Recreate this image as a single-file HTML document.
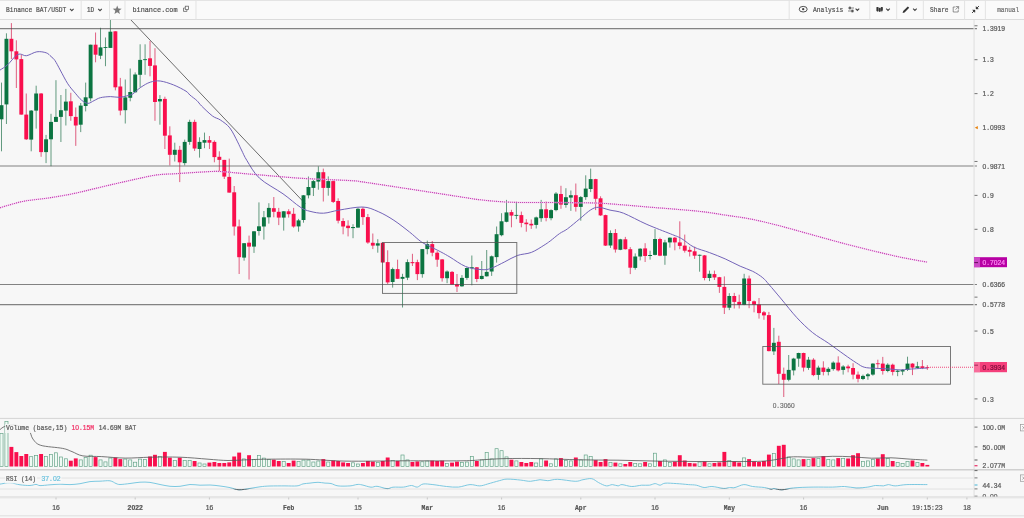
<!DOCTYPE html>
<html><head><meta charset="utf-8"><title>BAT/USDT</title>
<style>
html,body{margin:0;padding:0;background:#f7f7f7;}
body{width:1024px;height:518px;overflow:hidden;position:relative;font-family:"Liberation Mono",monospace;}
svg{position:absolute;left:0;top:0;display:block}
text{font-family:"Liberation Mono",monospace;}
</style></head><body>
<svg width="1024" height="518" viewBox="0 0 1024 518" style="will-change:transform">

<rect x="0" y="0" width="1024" height="518" fill="#f7f7f7"/>
<defs><clipPath id="cm"><rect x="0" y="20" width="973" height="398"/></clipPath></defs>
<g clip-path="url(#cm)">
<line x1="130.5" y1="19.5" x2="305.3" y2="203.8" stroke="#555" stroke-width="1" stroke-opacity="0.85"/>
<line x1="1.50" y1="82.6" x2="1.50" y2="151.3" stroke="#2b7853" stroke-width="0.9" stroke-opacity="0.82"/>
<rect x="-0.45" y="105.2" width="3.9" height="14.1" fill="#0b7441"/>
<line x1="6.45" y1="33.3" x2="6.45" y2="124.0" stroke="#2b7853" stroke-width="0.9" stroke-opacity="0.82"/>
<rect x="4.50" y="38.8" width="3.9" height="65.6" fill="#0b7441"/>
<line x1="11.40" y1="23.1" x2="11.40" y2="59.0" stroke="#d62655" stroke-width="0.9" stroke-opacity="0.82"/>
<rect x="9.45" y="38.8" width="3.9" height="12.5" fill="#f90f4d"/>
<line x1="16.35" y1="40.3" x2="16.35" y2="88.0" stroke="#d62655" stroke-width="0.9" stroke-opacity="0.82"/>
<rect x="14.40" y="51.3" width="3.9" height="8.1" fill="#f90f4d"/>
<line x1="21.30" y1="54.4" x2="21.30" y2="114.6" stroke="#d62655" stroke-width="0.9" stroke-opacity="0.82"/>
<rect x="19.35" y="59.1" width="3.9" height="55.5" fill="#f90f4d"/>
<line x1="26.25" y1="93.5" x2="26.25" y2="140.0" stroke="#d62655" stroke-width="0.9" stroke-opacity="0.82"/>
<rect x="24.30" y="114.6" width="3.9" height="24.7" fill="#f90f4d"/>
<line x1="31.21" y1="110.0" x2="31.21" y2="151.3" stroke="#2b7853" stroke-width="0.9" stroke-opacity="0.82"/>
<rect x="29.26" y="110.6" width="3.9" height="29.0" fill="#0b7441"/>
<line x1="36.16" y1="85.7" x2="36.16" y2="128.6" stroke="#2b7853" stroke-width="0.9" stroke-opacity="0.82"/>
<rect x="34.21" y="93.5" width="3.9" height="17.1" fill="#0b7441"/>
<line x1="41.11" y1="93.0" x2="41.11" y2="156.8" stroke="#d62655" stroke-width="0.9" stroke-opacity="0.82"/>
<rect x="39.16" y="93.5" width="3.9" height="58.6" fill="#f90f4d"/>
<line x1="46.06" y1="134.9" x2="46.06" y2="163.1" stroke="#2b7853" stroke-width="0.9" stroke-opacity="0.82"/>
<rect x="44.11" y="139.3" width="3.9" height="12.8" fill="#0b7441"/>
<line x1="51.01" y1="113.8" x2="51.01" y2="166.2" stroke="#2b7853" stroke-width="0.9" stroke-opacity="0.82"/>
<rect x="49.06" y="121.9" width="3.9" height="17.4" fill="#0b7441"/>
<line x1="55.96" y1="80.2" x2="55.96" y2="122.0" stroke="#2b7853" stroke-width="0.9" stroke-opacity="0.82"/>
<rect x="54.01" y="116.9" width="3.9" height="5.0" fill="#0b7441"/>
<line x1="60.91" y1="95.0" x2="60.91" y2="142.0" stroke="#2b7853" stroke-width="0.9" stroke-opacity="0.82"/>
<rect x="58.96" y="110.2" width="3.9" height="6.7" fill="#0b7441"/>
<line x1="65.86" y1="88.9" x2="65.86" y2="125.5" stroke="#2b7853" stroke-width="0.9" stroke-opacity="0.82"/>
<rect x="63.91" y="101.6" width="3.9" height="9.0" fill="#0b7441"/>
<line x1="70.81" y1="92.8" x2="70.81" y2="120.8" stroke="#d62655" stroke-width="0.9" stroke-opacity="0.82"/>
<rect x="68.86" y="101.3" width="3.9" height="14.8" fill="#f90f4d"/>
<line x1="75.77" y1="107.5" x2="75.77" y2="145.9" stroke="#d62655" stroke-width="0.9" stroke-opacity="0.82"/>
<rect x="73.81" y="116.9" width="3.9" height="8.6" fill="#f90f4d"/>
<line x1="80.72" y1="103.0" x2="80.72" y2="132.1" stroke="#2b7853" stroke-width="0.9" stroke-opacity="0.82"/>
<rect x="78.77" y="105.6" width="3.9" height="19.1" fill="#0b7441"/>
<line x1="85.67" y1="82.6" x2="85.67" y2="111.4" stroke="#2b7853" stroke-width="0.9" stroke-opacity="0.82"/>
<rect x="83.72" y="97.3" width="3.9" height="8.7" fill="#0b7441"/>
<line x1="90.62" y1="44.7" x2="90.62" y2="101.3" stroke="#2b7853" stroke-width="0.9" stroke-opacity="0.82"/>
<rect x="88.67" y="44.7" width="3.9" height="53.6" fill="#0b7441"/>
<line x1="95.57" y1="32.5" x2="95.57" y2="62.3" stroke="#d62655" stroke-width="0.9" stroke-opacity="0.82"/>
<rect x="93.62" y="44.7" width="3.9" height="10.0" fill="#f90f4d"/>
<line x1="100.52" y1="27.8" x2="100.52" y2="59.1" stroke="#2b7853" stroke-width="0.9" stroke-opacity="0.82"/>
<rect x="98.57" y="47.4" width="3.9" height="8.3" fill="#0b7441"/>
<line x1="105.47" y1="37.5" x2="105.47" y2="66.2" stroke="#2b7853" stroke-width="0.9" stroke-opacity="0.82"/>
<rect x="103.52" y="47.0" width="3.9" height="0.9" fill="#0b7441"/>
<line x1="110.42" y1="20.0" x2="110.42" y2="47.9" stroke="#2b7853" stroke-width="0.9" stroke-opacity="0.82"/>
<rect x="108.47" y="31.7" width="3.9" height="16.2" fill="#0b7441"/>
<line x1="115.37" y1="31.3" x2="115.37" y2="90.4" stroke="#d62655" stroke-width="0.9" stroke-opacity="0.82"/>
<rect x="113.42" y="31.3" width="3.9" height="56.0" fill="#f90f4d"/>
<line x1="120.32" y1="77.9" x2="120.32" y2="115.3" stroke="#d62655" stroke-width="0.9" stroke-opacity="0.82"/>
<rect x="118.37" y="86.5" width="3.9" height="24.1" fill="#f90f4d"/>
<line x1="125.27" y1="79.5" x2="125.27" y2="123.5" stroke="#2b7853" stroke-width="0.9" stroke-opacity="0.82"/>
<rect x="123.32" y="97.4" width="3.9" height="12.8" fill="#0b7441"/>
<line x1="130.23" y1="68.5" x2="130.23" y2="101.3" stroke="#2b7853" stroke-width="0.9" stroke-opacity="0.82"/>
<rect x="128.28" y="92.0" width="3.9" height="5.8" fill="#0b7441"/>
<line x1="135.18" y1="72.4" x2="135.18" y2="92.3" stroke="#2b7853" stroke-width="0.9" stroke-opacity="0.82"/>
<rect x="133.23" y="74.5" width="3.9" height="17.8" fill="#0b7441"/>
<line x1="140.13" y1="44.3" x2="140.13" y2="87.3" stroke="#2b7853" stroke-width="0.9" stroke-opacity="0.82"/>
<rect x="138.18" y="59.9" width="3.9" height="14.9" fill="#0b7441"/>
<line x1="145.08" y1="44.3" x2="145.08" y2="74.8" stroke="#2b7853" stroke-width="0.9" stroke-opacity="0.82"/>
<rect x="143.13" y="59.2" width="3.9" height="0.9" fill="#0b7441"/>
<line x1="150.03" y1="41.1" x2="150.03" y2="76.3" stroke="#d62655" stroke-width="0.9" stroke-opacity="0.82"/>
<rect x="148.08" y="58.3" width="3.9" height="7.6" fill="#f90f4d"/>
<line x1="154.98" y1="48.2" x2="154.98" y2="120.8" stroke="#d62655" stroke-width="0.9" stroke-opacity="0.82"/>
<rect x="153.03" y="65.4" width="3.9" height="36.6" fill="#f90f4d"/>
<line x1="159.93" y1="95.1" x2="159.93" y2="124.7" stroke="#2b7853" stroke-width="0.9" stroke-opacity="0.82"/>
<rect x="157.98" y="99.0" width="3.9" height="2.4" fill="#0b7441"/>
<line x1="164.88" y1="96.7" x2="164.88" y2="149.0" stroke="#d62655" stroke-width="0.9" stroke-opacity="0.82"/>
<rect x="162.93" y="98.9" width="3.9" height="36.8" fill="#f90f4d"/>
<line x1="169.83" y1="126.3" x2="169.83" y2="165.4" stroke="#d62655" stroke-width="0.9" stroke-opacity="0.82"/>
<rect x="167.88" y="135.4" width="3.9" height="19.4" fill="#f90f4d"/>
<line x1="174.78" y1="142.7" x2="174.78" y2="161.5" stroke="#2b7853" stroke-width="0.9" stroke-opacity="0.82"/>
<rect x="172.84" y="149.8" width="3.9" height="5.0" fill="#0b7441"/>
<line x1="179.74" y1="145.9" x2="179.74" y2="182.1" stroke="#d62655" stroke-width="0.9" stroke-opacity="0.82"/>
<rect x="177.79" y="149.8" width="3.9" height="12.5" fill="#f90f4d"/>
<line x1="184.69" y1="139.6" x2="184.69" y2="165.4" stroke="#2b7853" stroke-width="0.9" stroke-opacity="0.82"/>
<rect x="182.74" y="141.9" width="3.9" height="21.2" fill="#0b7441"/>
<line x1="189.64" y1="119.7" x2="189.64" y2="144.8" stroke="#2b7853" stroke-width="0.9" stroke-opacity="0.82"/>
<rect x="187.69" y="121.9" width="3.9" height="20.0" fill="#0b7441"/>
<line x1="194.59" y1="119.7" x2="194.59" y2="150.9" stroke="#d62655" stroke-width="0.9" stroke-opacity="0.82"/>
<rect x="192.64" y="121.9" width="3.9" height="26.6" fill="#f90f4d"/>
<line x1="199.54" y1="137.3" x2="199.54" y2="157.6" stroke="#2b7853" stroke-width="0.9" stroke-opacity="0.82"/>
<rect x="197.59" y="141.9" width="3.9" height="7.1" fill="#0b7441"/>
<line x1="204.49" y1="132.6" x2="204.49" y2="148.2" stroke="#2b7853" stroke-width="0.9" stroke-opacity="0.82"/>
<rect x="202.54" y="140.1" width="3.9" height="2.6" fill="#0b7441"/>
<line x1="209.44" y1="136.0" x2="209.44" y2="149.0" stroke="#d62655" stroke-width="0.9" stroke-opacity="0.82"/>
<rect x="207.49" y="140.1" width="3.9" height="2.6" fill="#f90f4d"/>
<line x1="214.39" y1="140.4" x2="214.39" y2="162.3" stroke="#d62655" stroke-width="0.9" stroke-opacity="0.82"/>
<rect x="212.44" y="141.9" width="3.9" height="15.2" fill="#f90f4d"/>
<line x1="219.34" y1="151.3" x2="219.34" y2="171.1" stroke="#d62655" stroke-width="0.9" stroke-opacity="0.82"/>
<rect x="217.39" y="156.8" width="3.9" height="3.1" fill="#f90f4d"/>
<line x1="224.29" y1="159.9" x2="224.29" y2="179.0" stroke="#d62655" stroke-width="0.9" stroke-opacity="0.82"/>
<rect x="222.34" y="159.9" width="3.9" height="16.7" fill="#f90f4d"/>
<line x1="229.25" y1="158.6" x2="229.25" y2="192.6" stroke="#d62655" stroke-width="0.9" stroke-opacity="0.82"/>
<rect x="227.30" y="176.9" width="3.9" height="15.7" fill="#f90f4d"/>
<line x1="234.20" y1="186.0" x2="234.20" y2="235.6" stroke="#d62655" stroke-width="0.9" stroke-opacity="0.82"/>
<rect x="232.25" y="192.3" width="3.9" height="34.2" fill="#f90f4d"/>
<line x1="239.15" y1="219.6" x2="239.15" y2="274.0" stroke="#d62655" stroke-width="0.9" stroke-opacity="0.82"/>
<rect x="237.20" y="226.4" width="3.9" height="30.8" fill="#f90f4d"/>
<line x1="244.10" y1="243.0" x2="244.10" y2="260.7" stroke="#2b7853" stroke-width="0.9" stroke-opacity="0.82"/>
<rect x="242.15" y="243.2" width="3.9" height="14.4" fill="#0b7441"/>
<line x1="249.05" y1="235.6" x2="249.05" y2="279.5" stroke="#d62655" stroke-width="0.9" stroke-opacity="0.82"/>
<rect x="247.10" y="242.7" width="3.9" height="3.9" fill="#f90f4d"/>
<line x1="254.00" y1="231.0" x2="254.00" y2="252.9" stroke="#2b7853" stroke-width="0.9" stroke-opacity="0.82"/>
<rect x="252.05" y="231.3" width="3.9" height="15.3" fill="#0b7441"/>
<line x1="258.95" y1="202.4" x2="258.95" y2="235.6" stroke="#2b7853" stroke-width="0.9" stroke-opacity="0.82"/>
<rect x="257.00" y="226.3" width="3.9" height="4.7" fill="#0b7441"/>
<line x1="263.90" y1="211.0" x2="263.90" y2="239.6" stroke="#2b7853" stroke-width="0.9" stroke-opacity="0.82"/>
<rect x="261.95" y="217.3" width="3.9" height="9.2" fill="#0b7441"/>
<line x1="268.85" y1="203.2" x2="268.85" y2="223.6" stroke="#2b7853" stroke-width="0.9" stroke-opacity="0.82"/>
<rect x="266.90" y="207.9" width="3.9" height="9.4" fill="#0b7441"/>
<line x1="273.81" y1="197.0" x2="273.81" y2="217.3" stroke="#d62655" stroke-width="0.9" stroke-opacity="0.82"/>
<rect x="271.86" y="208.2" width="3.9" height="3.6" fill="#f90f4d"/>
<line x1="278.76" y1="207.9" x2="278.76" y2="225.1" stroke="#d62655" stroke-width="0.9" stroke-opacity="0.82"/>
<rect x="276.81" y="211.8" width="3.9" height="5.8" fill="#f90f4d"/>
<line x1="283.71" y1="211.0" x2="283.71" y2="230.6" stroke="#2b7853" stroke-width="0.9" stroke-opacity="0.82"/>
<rect x="281.76" y="211.3" width="3.9" height="6.3" fill="#0b7441"/>
<line x1="288.66" y1="209.2" x2="288.66" y2="217.6" stroke="#d62655" stroke-width="0.9" stroke-opacity="0.82"/>
<rect x="286.71" y="211.3" width="3.9" height="2.9" fill="#f90f4d"/>
<line x1="293.61" y1="207.9" x2="293.61" y2="227.7" stroke="#d62655" stroke-width="0.9" stroke-opacity="0.82"/>
<rect x="291.66" y="213.8" width="3.9" height="12.7" fill="#f90f4d"/>
<line x1="298.56" y1="218.9" x2="298.56" y2="231.7" stroke="#2b7853" stroke-width="0.9" stroke-opacity="0.82"/>
<rect x="296.61" y="220.4" width="3.9" height="6.0" fill="#0b7441"/>
<line x1="303.51" y1="195.0" x2="303.51" y2="222.7" stroke="#2b7853" stroke-width="0.9" stroke-opacity="0.82"/>
<rect x="301.56" y="195.3" width="3.9" height="24.7" fill="#0b7441"/>
<line x1="308.46" y1="176.5" x2="308.46" y2="198.4" stroke="#2b7853" stroke-width="0.9" stroke-opacity="0.82"/>
<rect x="306.51" y="187.0" width="3.9" height="8.3" fill="#0b7441"/>
<line x1="313.41" y1="180.0" x2="313.41" y2="196.0" stroke="#2b7853" stroke-width="0.9" stroke-opacity="0.82"/>
<rect x="311.46" y="181.1" width="3.9" height="6.8" fill="#0b7441"/>
<line x1="318.36" y1="166.3" x2="318.36" y2="189.7" stroke="#2b7853" stroke-width="0.9" stroke-opacity="0.82"/>
<rect x="316.41" y="172.2" width="3.9" height="9.4" fill="#0b7441"/>
<line x1="323.31" y1="168.6" x2="323.31" y2="201.5" stroke="#d62655" stroke-width="0.9" stroke-opacity="0.82"/>
<rect x="321.37" y="172.2" width="3.9" height="15.7" fill="#f90f4d"/>
<line x1="328.27" y1="176.4" x2="328.27" y2="195.7" stroke="#2b7853" stroke-width="0.9" stroke-opacity="0.82"/>
<rect x="326.32" y="181.1" width="3.9" height="6.8" fill="#0b7441"/>
<line x1="333.22" y1="180.3" x2="333.22" y2="203.0" stroke="#d62655" stroke-width="0.9" stroke-opacity="0.82"/>
<rect x="331.27" y="181.1" width="3.9" height="20.8" fill="#f90f4d"/>
<line x1="338.17" y1="198.3" x2="338.17" y2="223.4" stroke="#d62655" stroke-width="0.9" stroke-opacity="0.82"/>
<rect x="336.22" y="201.0" width="3.9" height="19.7" fill="#f90f4d"/>
<line x1="343.12" y1="218.2" x2="343.12" y2="234.3" stroke="#d62655" stroke-width="0.9" stroke-opacity="0.82"/>
<rect x="341.17" y="221.0" width="3.9" height="5.5" fill="#f90f4d"/>
<line x1="348.07" y1="220.3" x2="348.07" y2="236.4" stroke="#d62655" stroke-width="0.9" stroke-opacity="0.82"/>
<rect x="346.12" y="225.7" width="3.9" height="2.4" fill="#f90f4d"/>
<line x1="353.02" y1="224.2" x2="353.02" y2="238.2" stroke="#2b7853" stroke-width="0.9" stroke-opacity="0.82"/>
<rect x="351.07" y="227.0" width="3.9" height="1.1" fill="#0b7441"/>
<line x1="357.97" y1="207.7" x2="357.97" y2="227.6" stroke="#2b7853" stroke-width="0.9" stroke-opacity="0.82"/>
<rect x="356.02" y="208.8" width="3.9" height="18.8" fill="#0b7441"/>
<line x1="362.92" y1="207.0" x2="362.92" y2="224.9" stroke="#d62655" stroke-width="0.9" stroke-opacity="0.82"/>
<rect x="360.97" y="208.8" width="3.9" height="8.3" fill="#f90f4d"/>
<line x1="367.87" y1="214.0" x2="367.87" y2="243.8" stroke="#d62655" stroke-width="0.9" stroke-opacity="0.82"/>
<rect x="365.92" y="217.1" width="3.9" height="25.4" fill="#f90f4d"/>
<line x1="372.82" y1="233.5" x2="372.82" y2="249.1" stroke="#d62655" stroke-width="0.9" stroke-opacity="0.82"/>
<rect x="370.88" y="242.8" width="3.9" height="2.8" fill="#f90f4d"/>
<line x1="377.78" y1="239.2" x2="377.78" y2="252.7" stroke="#2b7853" stroke-width="0.9" stroke-opacity="0.82"/>
<rect x="375.83" y="243.3" width="3.9" height="2.3" fill="#0b7441"/>
<line x1="382.73" y1="242.8" x2="382.73" y2="262.5" stroke="#d62655" stroke-width="0.9" stroke-opacity="0.82"/>
<rect x="380.78" y="242.8" width="3.9" height="19.7" fill="#d80f42"/>
<line x1="387.68" y1="250.3" x2="387.68" y2="284.0" stroke="#d62655" stroke-width="0.9" stroke-opacity="0.82"/>
<rect x="385.73" y="262.1" width="3.9" height="20.3" fill="#f90f4d"/>
<line x1="392.63" y1="267.6" x2="392.63" y2="287.6" stroke="#2b7853" stroke-width="0.9" stroke-opacity="0.82"/>
<rect x="390.68" y="269.1" width="3.9" height="12.9" fill="#0b7441"/>
<line x1="397.58" y1="259.7" x2="397.58" y2="278.8" stroke="#d62655" stroke-width="0.9" stroke-opacity="0.82"/>
<rect x="395.63" y="269.1" width="3.9" height="9.7" fill="#f90f4d"/>
<line x1="402.53" y1="273.8" x2="402.53" y2="307.5" stroke="#2b7853" stroke-width="0.9" stroke-opacity="0.82"/>
<rect x="400.58" y="276.9" width="3.9" height="1.9" fill="#0b7441"/>
<line x1="407.48" y1="259.4" x2="407.48" y2="280.1" stroke="#2b7853" stroke-width="0.9" stroke-opacity="0.82"/>
<rect x="405.53" y="262.1" width="3.9" height="15.6" fill="#0b7441"/>
<line x1="412.43" y1="253.8" x2="412.43" y2="266.0" stroke="#d62655" stroke-width="0.9" stroke-opacity="0.82"/>
<rect x="410.48" y="262.1" width="3.9" height="1.1" fill="#f90f4d"/>
<line x1="417.38" y1="259.7" x2="417.38" y2="280.1" stroke="#d62655" stroke-width="0.9" stroke-opacity="0.82"/>
<rect x="415.43" y="262.1" width="3.9" height="12.0" fill="#f90f4d"/>
<line x1="422.33" y1="249.0" x2="422.33" y2="277.7" stroke="#2b7853" stroke-width="0.9" stroke-opacity="0.82"/>
<rect x="420.38" y="249.1" width="3.9" height="25.0" fill="#0b7441"/>
<line x1="427.29" y1="240.6" x2="427.29" y2="254.3" stroke="#2b7853" stroke-width="0.9" stroke-opacity="0.82"/>
<rect x="425.34" y="244.1" width="3.9" height="5.0" fill="#0b7441"/>
<line x1="432.24" y1="241.0" x2="432.24" y2="256.3" stroke="#d62655" stroke-width="0.9" stroke-opacity="0.82"/>
<rect x="430.29" y="244.1" width="3.9" height="8.6" fill="#f90f4d"/>
<line x1="437.19" y1="251.1" x2="437.19" y2="266.8" stroke="#d62655" stroke-width="0.9" stroke-opacity="0.82"/>
<rect x="435.24" y="252.7" width="3.9" height="7.0" fill="#f90f4d"/>
<line x1="442.14" y1="259.0" x2="442.14" y2="281.6" stroke="#d62655" stroke-width="0.9" stroke-opacity="0.82"/>
<rect x="440.19" y="259.4" width="3.9" height="18.8" fill="#f90f4d"/>
<line x1="447.09" y1="270.4" x2="447.09" y2="283.2" stroke="#2b7853" stroke-width="0.9" stroke-opacity="0.82"/>
<rect x="445.14" y="271.5" width="3.9" height="6.7" fill="#0b7441"/>
<line x1="452.04" y1="271.0" x2="452.04" y2="284.8" stroke="#d62655" stroke-width="0.9" stroke-opacity="0.82"/>
<rect x="450.09" y="271.9" width="3.9" height="12.7" fill="#f90f4d"/>
<line x1="456.99" y1="274.0" x2="456.99" y2="292.0" stroke="#d62655" stroke-width="0.9" stroke-opacity="0.82"/>
<rect x="455.04" y="284.3" width="3.9" height="2.2" fill="#f90f4d"/>
<line x1="461.94" y1="275.1" x2="461.94" y2="286.8" stroke="#2b7853" stroke-width="0.9" stroke-opacity="0.82"/>
<rect x="459.99" y="277.9" width="3.9" height="8.4" fill="#0b7441"/>
<line x1="466.89" y1="267.3" x2="466.89" y2="279.8" stroke="#2b7853" stroke-width="0.9" stroke-opacity="0.82"/>
<rect x="464.94" y="268.0" width="3.9" height="9.9" fill="#0b7441"/>
<line x1="471.84" y1="255.5" x2="471.84" y2="285.3" stroke="#2b7853" stroke-width="0.9" stroke-opacity="0.82"/>
<rect x="469.89" y="267.2" width="3.9" height="0.9" fill="#0b7441"/>
<line x1="476.80" y1="267.0" x2="476.80" y2="282.1" stroke="#d62655" stroke-width="0.9" stroke-opacity="0.82"/>
<rect x="474.85" y="267.3" width="3.9" height="11.7" fill="#f90f4d"/>
<line x1="481.75" y1="261.0" x2="481.75" y2="279.5" stroke="#2b7853" stroke-width="0.9" stroke-opacity="0.82"/>
<rect x="479.80" y="275.9" width="3.9" height="3.1" fill="#0b7441"/>
<line x1="486.70" y1="250.0" x2="486.70" y2="276.6" stroke="#2b7853" stroke-width="0.9" stroke-opacity="0.82"/>
<rect x="484.75" y="271.9" width="3.9" height="4.4" fill="#0b7441"/>
<line x1="491.65" y1="255.5" x2="491.65" y2="275.9" stroke="#2b7853" stroke-width="0.9" stroke-opacity="0.82"/>
<rect x="489.70" y="256.3" width="3.9" height="15.2" fill="#0b7441"/>
<line x1="496.60" y1="226.5" x2="496.60" y2="262.6" stroke="#2b7853" stroke-width="0.9" stroke-opacity="0.82"/>
<rect x="494.65" y="234.2" width="3.9" height="22.9" fill="#0b7441"/>
<line x1="501.55" y1="213.2" x2="501.55" y2="236.3" stroke="#2b7853" stroke-width="0.9" stroke-opacity="0.82"/>
<rect x="499.60" y="221.3" width="3.9" height="13.9" fill="#0b7441"/>
<line x1="506.50" y1="199.9" x2="506.50" y2="222.3" stroke="#2b7853" stroke-width="0.9" stroke-opacity="0.82"/>
<rect x="504.55" y="212.4" width="3.9" height="9.4" fill="#0b7441"/>
<line x1="511.45" y1="209.8" x2="511.45" y2="227.3" stroke="#d62655" stroke-width="0.9" stroke-opacity="0.82"/>
<rect x="509.50" y="212.1" width="3.9" height="3.5" fill="#f90f4d"/>
<line x1="516.40" y1="201.9" x2="516.40" y2="219.2" stroke="#2b7853" stroke-width="0.9" stroke-opacity="0.82"/>
<rect x="514.45" y="214.9" width="3.9" height="0.9" fill="#0b7441"/>
<line x1="521.35" y1="211.6" x2="521.35" y2="227.3" stroke="#d62655" stroke-width="0.9" stroke-opacity="0.82"/>
<rect x="519.40" y="215.1" width="3.9" height="7.8" fill="#f90f4d"/>
<line x1="526.31" y1="219.2" x2="526.31" y2="231.7" stroke="#d62655" stroke-width="0.9" stroke-opacity="0.82"/>
<rect x="524.36" y="222.6" width="3.9" height="1.6" fill="#f90f4d"/>
<line x1="531.26" y1="219.5" x2="531.26" y2="228.9" stroke="#d62655" stroke-width="0.9" stroke-opacity="0.82"/>
<rect x="529.31" y="223.8" width="3.9" height="1.6" fill="#f90f4d"/>
<line x1="536.21" y1="216.6" x2="536.21" y2="228.5" stroke="#2b7853" stroke-width="0.9" stroke-opacity="0.82"/>
<rect x="534.26" y="217.4" width="3.9" height="7.5" fill="#0b7441"/>
<line x1="541.16" y1="199.9" x2="541.16" y2="221.8" stroke="#2b7853" stroke-width="0.9" stroke-opacity="0.82"/>
<rect x="539.21" y="209.3" width="3.9" height="8.9" fill="#0b7441"/>
<line x1="546.11" y1="201.5" x2="546.11" y2="221.3" stroke="#d62655" stroke-width="0.9" stroke-opacity="0.82"/>
<rect x="544.16" y="209.3" width="3.9" height="8.6" fill="#f90f4d"/>
<line x1="551.06" y1="209.3" x2="551.06" y2="220.3" stroke="#2b7853" stroke-width="0.9" stroke-opacity="0.82"/>
<rect x="549.11" y="210.1" width="3.9" height="8.1" fill="#0b7441"/>
<line x1="556.01" y1="192.1" x2="556.01" y2="211.3" stroke="#2b7853" stroke-width="0.9" stroke-opacity="0.82"/>
<rect x="554.06" y="193.6" width="3.9" height="16.5" fill="#0b7441"/>
<line x1="560.96" y1="185.8" x2="560.96" y2="208.8" stroke="#d62655" stroke-width="0.9" stroke-opacity="0.82"/>
<rect x="559.01" y="194.0" width="3.9" height="10.6" fill="#f90f4d"/>
<line x1="565.91" y1="188.2" x2="565.91" y2="207.7" stroke="#2b7853" stroke-width="0.9" stroke-opacity="0.82"/>
<rect x="563.96" y="197.2" width="3.9" height="7.7" fill="#0b7441"/>
<line x1="570.87" y1="190.5" x2="570.87" y2="210.9" stroke="#2b7853" stroke-width="0.9" stroke-opacity="0.82"/>
<rect x="568.91" y="195.2" width="3.9" height="2.4" fill="#0b7441"/>
<line x1="575.82" y1="183.5" x2="575.82" y2="211.6" stroke="#d62655" stroke-width="0.9" stroke-opacity="0.82"/>
<rect x="573.87" y="195.2" width="3.9" height="11.7" fill="#f90f4d"/>
<line x1="580.77" y1="196.0" x2="580.77" y2="220.7" stroke="#2b7853" stroke-width="0.9" stroke-opacity="0.82"/>
<rect x="578.82" y="197.1" width="3.9" height="9.8" fill="#0b7441"/>
<line x1="585.72" y1="175.3" x2="585.72" y2="199.9" stroke="#2b7853" stroke-width="0.9" stroke-opacity="0.82"/>
<rect x="583.77" y="188.6" width="3.9" height="8.5" fill="#0b7441"/>
<line x1="590.67" y1="168.6" x2="590.67" y2="192.1" stroke="#2b7853" stroke-width="0.9" stroke-opacity="0.82"/>
<rect x="588.72" y="179.1" width="3.9" height="9.9" fill="#0b7441"/>
<line x1="595.62" y1="178.8" x2="595.62" y2="210.1" stroke="#d62655" stroke-width="0.9" stroke-opacity="0.82"/>
<rect x="593.67" y="179.1" width="3.9" height="19.7" fill="#f90f4d"/>
<line x1="600.57" y1="196.3" x2="600.57" y2="215.9" stroke="#d62655" stroke-width="0.9" stroke-opacity="0.82"/>
<rect x="598.62" y="198.3" width="3.9" height="17.1" fill="#f90f4d"/>
<line x1="605.52" y1="214.7" x2="605.52" y2="246.0" stroke="#d62655" stroke-width="0.9" stroke-opacity="0.82"/>
<rect x="603.57" y="215.1" width="3.9" height="30.5" fill="#f90f4d"/>
<line x1="610.47" y1="230.4" x2="610.47" y2="247.9" stroke="#2b7853" stroke-width="0.9" stroke-opacity="0.82"/>
<rect x="608.52" y="233.0" width="3.9" height="12.5" fill="#0b7441"/>
<line x1="615.42" y1="229.1" x2="615.42" y2="252.6" stroke="#d62655" stroke-width="0.9" stroke-opacity="0.82"/>
<rect x="613.47" y="233.0" width="3.9" height="16.5" fill="#f90f4d"/>
<line x1="620.38" y1="238.8" x2="620.38" y2="250.2" stroke="#2b7853" stroke-width="0.9" stroke-opacity="0.82"/>
<rect x="618.42" y="239.3" width="3.9" height="10.5" fill="#0b7441"/>
<line x1="625.33" y1="236.9" x2="625.33" y2="249.5" stroke="#d62655" stroke-width="0.9" stroke-opacity="0.82"/>
<rect x="623.38" y="239.3" width="3.9" height="9.9" fill="#f90f4d"/>
<line x1="630.28" y1="247.1" x2="630.28" y2="274.1" stroke="#d62655" stroke-width="0.9" stroke-opacity="0.82"/>
<rect x="628.33" y="249.2" width="3.9" height="18.5" fill="#f90f4d"/>
<line x1="635.23" y1="253.4" x2="635.23" y2="269.7" stroke="#2b7853" stroke-width="0.9" stroke-opacity="0.82"/>
<rect x="633.28" y="256.5" width="3.9" height="11.4" fill="#0b7441"/>
<line x1="640.18" y1="248.2" x2="640.18" y2="260.4" stroke="#2b7853" stroke-width="0.9" stroke-opacity="0.82"/>
<rect x="638.23" y="248.7" width="3.9" height="7.8" fill="#0b7441"/>
<line x1="645.13" y1="243.2" x2="645.13" y2="262.0" stroke="#d62655" stroke-width="0.9" stroke-opacity="0.82"/>
<rect x="643.18" y="248.4" width="3.9" height="7.6" fill="#f90f4d"/>
<line x1="650.08" y1="250.7" x2="650.08" y2="259.6" stroke="#2b7853" stroke-width="0.9" stroke-opacity="0.82"/>
<rect x="648.13" y="255.0" width="3.9" height="1.0" fill="#0b7441"/>
<line x1="655.03" y1="229.1" x2="655.03" y2="255.4" stroke="#2b7853" stroke-width="0.9" stroke-opacity="0.82"/>
<rect x="653.08" y="239.0" width="3.9" height="15.9" fill="#0b7441"/>
<line x1="659.98" y1="237.7" x2="659.98" y2="256.2" stroke="#d62655" stroke-width="0.9" stroke-opacity="0.82"/>
<rect x="658.03" y="239.0" width="3.9" height="16.7" fill="#f90f4d"/>
<line x1="664.93" y1="239.8" x2="664.93" y2="264.8" stroke="#2b7853" stroke-width="0.9" stroke-opacity="0.82"/>
<rect x="662.98" y="242.4" width="3.9" height="13.3" fill="#0b7441"/>
<line x1="669.88" y1="237.4" x2="669.88" y2="247.6" stroke="#2b7853" stroke-width="0.9" stroke-opacity="0.82"/>
<rect x="667.93" y="237.7" width="3.9" height="4.7" fill="#0b7441"/>
<line x1="674.84" y1="236.9" x2="674.84" y2="250.3" stroke="#d62655" stroke-width="0.9" stroke-opacity="0.82"/>
<rect x="672.89" y="237.7" width="3.9" height="4.7" fill="#f90f4d"/>
<line x1="679.79" y1="221.3" x2="679.79" y2="249.2" stroke="#d62655" stroke-width="0.9" stroke-opacity="0.82"/>
<rect x="677.84" y="242.4" width="3.9" height="3.5" fill="#f90f4d"/>
<line x1="684.74" y1="234.6" x2="684.74" y2="252.6" stroke="#d62655" stroke-width="0.9" stroke-opacity="0.82"/>
<rect x="682.79" y="245.6" width="3.9" height="5.1" fill="#f90f4d"/>
<line x1="689.69" y1="246.7" x2="689.69" y2="256.5" stroke="#d62655" stroke-width="0.9" stroke-opacity="0.82"/>
<rect x="687.74" y="249.9" width="3.9" height="1.9" fill="#f90f4d"/>
<line x1="694.64" y1="246.7" x2="694.64" y2="258.9" stroke="#d62655" stroke-width="0.9" stroke-opacity="0.82"/>
<rect x="692.69" y="251.3" width="3.9" height="4.4" fill="#f90f4d"/>
<line x1="699.59" y1="254.6" x2="699.59" y2="271.7" stroke="#2b7853" stroke-width="0.9" stroke-opacity="0.82"/>
<rect x="697.64" y="254.8" width="3.9" height="0.9" fill="#0b7441"/>
<line x1="704.54" y1="255.0" x2="704.54" y2="280.3" stroke="#d62655" stroke-width="0.9" stroke-opacity="0.82"/>
<rect x="702.59" y="255.4" width="3.9" height="22.6" fill="#f90f4d"/>
<line x1="709.49" y1="270.6" x2="709.49" y2="281.1" stroke="#2b7853" stroke-width="0.9" stroke-opacity="0.82"/>
<rect x="707.54" y="273.8" width="3.9" height="4.2" fill="#0b7441"/>
<line x1="714.44" y1="270.6" x2="714.44" y2="280.0" stroke="#d62655" stroke-width="0.9" stroke-opacity="0.82"/>
<rect x="712.49" y="274.1" width="3.9" height="3.4" fill="#f90f4d"/>
<line x1="719.39" y1="276.9" x2="719.39" y2="292.9" stroke="#d62655" stroke-width="0.9" stroke-opacity="0.82"/>
<rect x="717.44" y="277.2" width="3.9" height="9.7" fill="#f90f4d"/>
<line x1="724.35" y1="276.4" x2="724.35" y2="314.0" stroke="#d62655" stroke-width="0.9" stroke-opacity="0.82"/>
<rect x="722.40" y="286.9" width="3.9" height="20.8" fill="#f90f4d"/>
<line x1="729.30" y1="293.2" x2="729.30" y2="310.1" stroke="#2b7853" stroke-width="0.9" stroke-opacity="0.82"/>
<rect x="727.35" y="296.0" width="3.9" height="11.7" fill="#0b7441"/>
<line x1="734.25" y1="292.9" x2="734.25" y2="308.5" stroke="#d62655" stroke-width="0.9" stroke-opacity="0.82"/>
<rect x="732.30" y="296.0" width="3.9" height="5.9" fill="#f90f4d"/>
<line x1="739.20" y1="294.7" x2="739.20" y2="308.5" stroke="#d62655" stroke-width="0.9" stroke-opacity="0.82"/>
<rect x="737.25" y="301.9" width="3.9" height="3.0" fill="#f90f4d"/>
<line x1="744.15" y1="273.8" x2="744.15" y2="305.2" stroke="#2b7853" stroke-width="0.9" stroke-opacity="0.82"/>
<rect x="742.20" y="278.5" width="3.9" height="26.4" fill="#0b7441"/>
<line x1="749.10" y1="275.6" x2="749.10" y2="308.2" stroke="#d62655" stroke-width="0.9" stroke-opacity="0.82"/>
<rect x="747.15" y="278.5" width="3.9" height="22.5" fill="#f90f4d"/>
<line x1="754.05" y1="300.5" x2="754.05" y2="312.3" stroke="#d62655" stroke-width="0.9" stroke-opacity="0.82"/>
<rect x="752.10" y="301.3" width="3.9" height="3.4" fill="#f90f4d"/>
<line x1="759.00" y1="298.0" x2="759.00" y2="318.6" stroke="#d62655" stroke-width="0.9" stroke-opacity="0.82"/>
<rect x="757.05" y="304.5" width="3.9" height="8.6" fill="#f90f4d"/>
<line x1="763.95" y1="311.0" x2="763.95" y2="319.8" stroke="#d62655" stroke-width="0.9" stroke-opacity="0.82"/>
<rect x="762.00" y="312.3" width="3.9" height="3.1" fill="#f90f4d"/>
<line x1="768.90" y1="311.9" x2="768.90" y2="351.4" stroke="#d62655" stroke-width="0.9" stroke-opacity="0.82"/>
<rect x="766.95" y="315.1" width="3.9" height="36.0" fill="#f90f4d"/>
<line x1="773.86" y1="327.9" x2="773.86" y2="355.0" stroke="#2b7853" stroke-width="0.9" stroke-opacity="0.82"/>
<rect x="771.91" y="342.8" width="3.9" height="8.6" fill="#0b7441"/>
<line x1="778.81" y1="335.7" x2="778.81" y2="384.0" stroke="#d62655" stroke-width="0.9" stroke-opacity="0.82"/>
<rect x="776.86" y="341.8" width="3.9" height="32.0" fill="#f90f4d"/>
<line x1="783.76" y1="367.6" x2="783.76" y2="397.0" stroke="#d62655" stroke-width="0.9" stroke-opacity="0.82"/>
<rect x="781.81" y="373.8" width="3.9" height="6.0" fill="#f90f4d"/>
<line x1="788.71" y1="355.0" x2="788.71" y2="381.3" stroke="#2b7853" stroke-width="0.9" stroke-opacity="0.82"/>
<rect x="786.76" y="369.9" width="3.9" height="9.9" fill="#0b7441"/>
<line x1="793.66" y1="357.8" x2="793.66" y2="375.4" stroke="#2b7853" stroke-width="0.9" stroke-opacity="0.82"/>
<rect x="791.71" y="358.6" width="3.9" height="11.8" fill="#0b7441"/>
<line x1="798.61" y1="352.7" x2="798.61" y2="366.8" stroke="#2b7853" stroke-width="0.9" stroke-opacity="0.82"/>
<rect x="796.66" y="353.0" width="3.9" height="5.6" fill="#0b7441"/>
<line x1="803.56" y1="352.7" x2="803.56" y2="371.5" stroke="#d62655" stroke-width="0.9" stroke-opacity="0.82"/>
<rect x="801.61" y="353.0" width="3.9" height="14.6" fill="#f90f4d"/>
<line x1="808.51" y1="356.9" x2="808.51" y2="369.9" stroke="#2b7853" stroke-width="0.9" stroke-opacity="0.82"/>
<rect x="806.56" y="359.7" width="3.9" height="8.2" fill="#0b7441"/>
<line x1="813.46" y1="358.2" x2="813.46" y2="376.2" stroke="#d62655" stroke-width="0.9" stroke-opacity="0.82"/>
<rect x="811.51" y="359.7" width="3.9" height="15.4" fill="#f90f4d"/>
<line x1="818.41" y1="365.7" x2="818.41" y2="379.8" stroke="#2b7853" stroke-width="0.9" stroke-opacity="0.82"/>
<rect x="816.46" y="367.6" width="3.9" height="7.3" fill="#0b7441"/>
<line x1="823.37" y1="361.3" x2="823.37" y2="375.4" stroke="#d62655" stroke-width="0.9" stroke-opacity="0.82"/>
<rect x="821.42" y="367.6" width="3.9" height="4.3" fill="#f90f4d"/>
<line x1="828.32" y1="367.2" x2="828.32" y2="375.4" stroke="#2b7853" stroke-width="0.9" stroke-opacity="0.82"/>
<rect x="826.37" y="368.8" width="3.9" height="3.1" fill="#0b7441"/>
<line x1="833.27" y1="361.3" x2="833.27" y2="370.7" stroke="#2b7853" stroke-width="0.9" stroke-opacity="0.82"/>
<rect x="831.32" y="362.6" width="3.9" height="6.5" fill="#0b7441"/>
<line x1="838.22" y1="356.3" x2="838.22" y2="371.5" stroke="#d62655" stroke-width="0.9" stroke-opacity="0.82"/>
<rect x="836.27" y="362.6" width="3.9" height="7.8" fill="#f90f4d"/>
<line x1="843.17" y1="365.2" x2="843.17" y2="374.6" stroke="#2b7853" stroke-width="0.9" stroke-opacity="0.82"/>
<rect x="841.22" y="366.5" width="3.9" height="3.4" fill="#0b7441"/>
<line x1="848.12" y1="364.7" x2="848.12" y2="372.3" stroke="#d62655" stroke-width="0.9" stroke-opacity="0.82"/>
<rect x="846.17" y="366.5" width="3.9" height="1.8" fill="#f90f4d"/>
<line x1="853.07" y1="363.2" x2="853.07" y2="379.3" stroke="#d62655" stroke-width="0.9" stroke-opacity="0.82"/>
<rect x="851.12" y="368.0" width="3.9" height="6.6" fill="#f90f4d"/>
<line x1="858.02" y1="371.5" x2="858.02" y2="382.4" stroke="#d62655" stroke-width="0.9" stroke-opacity="0.82"/>
<rect x="856.07" y="374.6" width="3.9" height="4.2" fill="#f90f4d"/>
<line x1="862.97" y1="374.6" x2="862.97" y2="380.1" stroke="#2b7853" stroke-width="0.9" stroke-opacity="0.82"/>
<rect x="861.02" y="375.9" width="3.9" height="3.1" fill="#0b7441"/>
<line x1="867.92" y1="373.0" x2="867.92" y2="379.8" stroke="#2b7853" stroke-width="0.9" stroke-opacity="0.82"/>
<rect x="865.97" y="374.3" width="3.9" height="1.9" fill="#0b7441"/>
<line x1="872.88" y1="363.2" x2="872.88" y2="375.7" stroke="#2b7853" stroke-width="0.9" stroke-opacity="0.82"/>
<rect x="870.93" y="363.6" width="3.9" height="11.0" fill="#0b7441"/>
<line x1="877.83" y1="359.7" x2="877.83" y2="368.3" stroke="#d62655" stroke-width="0.9" stroke-opacity="0.82"/>
<rect x="875.88" y="363.3" width="3.9" height="0.9" fill="#f90f4d"/>
<line x1="882.78" y1="356.9" x2="882.78" y2="374.6" stroke="#d62655" stroke-width="0.9" stroke-opacity="0.82"/>
<rect x="880.83" y="363.6" width="3.9" height="7.4" fill="#f90f4d"/>
<line x1="887.73" y1="363.2" x2="887.73" y2="372.3" stroke="#2b7853" stroke-width="0.9" stroke-opacity="0.82"/>
<rect x="885.78" y="364.7" width="3.9" height="6.3" fill="#0b7441"/>
<line x1="892.68" y1="363.6" x2="892.68" y2="375.4" stroke="#d62655" stroke-width="0.9" stroke-opacity="0.82"/>
<rect x="890.73" y="364.7" width="3.9" height="7.2" fill="#f90f4d"/>
<line x1="897.63" y1="369.9" x2="897.63" y2="376.2" stroke="#2b7853" stroke-width="0.9" stroke-opacity="0.82"/>
<rect x="895.68" y="370.7" width="3.9" height="1.1" fill="#0b7441"/>
<line x1="902.58" y1="369.1" x2="902.58" y2="375.1" stroke="#2b7853" stroke-width="0.9" stroke-opacity="0.82"/>
<rect x="900.63" y="369.9" width="3.9" height="1.6" fill="#0b7441"/>
<line x1="907.53" y1="356.7" x2="907.53" y2="371.0" stroke="#2b7853" stroke-width="0.9" stroke-opacity="0.82"/>
<rect x="905.58" y="363.6" width="3.9" height="6.3" fill="#0b7441"/>
<line x1="912.48" y1="363.2" x2="912.48" y2="375.1" stroke="#d62655" stroke-width="0.9" stroke-opacity="0.82"/>
<rect x="910.53" y="363.6" width="3.9" height="4.0" fill="#f90f4d"/>
<line x1="917.43" y1="361.8" x2="917.43" y2="368.3" stroke="#2b7853" stroke-width="0.9" stroke-opacity="0.82"/>
<rect x="915.48" y="366.3" width="3.9" height="1.6" fill="#0b7441"/>
<line x1="922.39" y1="360.0" x2="922.39" y2="369.1" stroke="#d62655" stroke-width="0.9" stroke-opacity="0.82"/>
<rect x="920.44" y="366.3" width="3.9" height="1.7" fill="#f90f4d"/>
<line x1="927.34" y1="365.2" x2="927.34" y2="369.9" stroke="#d62655" stroke-width="0.9" stroke-opacity="0.82"/>
<rect x="925.39" y="367.2" width="3.9" height="0.9" fill="#f90f4d"/>
<g transform="translate(0,0)"><path d="M0.0,207.8 C2.1,207.2 8.4,205.1 12.6,204.0 C16.8,202.9 18.8,202.1 25.1,201.0 C31.4,199.9 41.9,199.0 50.3,197.7 C58.7,196.4 67.0,194.9 75.4,193.2 C83.8,191.4 92.1,189.2 100.5,187.2 C108.9,185.2 117.2,183.3 125.6,181.4 C134.0,179.5 144.9,177.1 150.8,175.9 C156.7,174.8 156.6,174.9 160.8,174.5 C165.0,174.1 169.2,174.1 175.9,173.7 C182.6,173.3 193.9,172.5 201.0,172.1 C208.1,171.7 212.3,171.2 218.6,171.4 C224.9,171.6 232.4,172.6 238.7,173.1 C245.0,173.6 246.1,173.8 256.3,174.6 C266.5,175.4 284.4,177.2 300.0,178.2 C315.6,179.2 339.6,180.0 350.0,180.6 C360.4,181.2 352.7,180.5 362.6,181.9 C372.5,183.3 393.3,186.5 409.5,189.0 C425.7,191.5 448.0,195.0 460.0,196.8 C472.0,198.6 472.5,199.0 481.3,199.9 C490.1,200.8 499.6,201.9 512.6,202.3 C525.6,202.8 544.9,202.4 559.5,202.6 C574.1,202.8 585.4,202.5 600.0,203.2 C614.6,203.9 630.2,205.5 646.9,206.9 C663.6,208.3 687.0,210.0 700.0,211.4 C713.0,212.8 716.7,213.8 725.1,215.1 C733.5,216.3 741.8,217.3 750.2,218.9 C758.6,220.5 766.9,222.6 775.3,224.7 C783.7,226.8 792.0,229.2 800.4,231.5 C808.8,233.8 817.1,236.2 825.5,238.5 C833.9,240.8 842.2,243.1 850.6,245.3 C859.0,247.5 867.3,249.5 875.7,251.5 C884.1,253.5 892.2,255.5 900.8,257.3 C909.4,259.1 922.8,261.3 927.2,262.1" fill="none" stroke="#f3b4ee" stroke-width="1.5" stroke-opacity="0.65"/>
<path d="M0,207.10h1v1.1h-1zM2,206.48h1v1.1h-1zM4,205.85h1v1.1h-1zM6,205.24h1v1.1h-1zM8,204.63h1v1.1h-1zM10,204.04h1v1.1h-1zM12,203.48h1v1.1h-1zM14,202.92h1v1.1h-1zM16,202.35h1v1.1h-1zM18,201.81h1v1.1h-1zM20,201.33h1v1.1h-1zM22,200.92h1v1.1h-1zM24,200.55h1v1.1h-1zM26,200.23h1v1.1h-1zM28,199.94h1v1.1h-1zM30,199.68h1v1.1h-1zM32,199.42h1v1.1h-1zM34,199.18h1v1.1h-1zM36,198.94h1v1.1h-1zM38,198.70h1v1.1h-1zM40,198.46h1v1.1h-1zM42,198.22h1v1.1h-1zM44,197.96h1v1.1h-1zM46,197.70h1v1.1h-1zM48,197.42h1v1.1h-1zM50,197.12h1v1.1h-1zM52,196.81h1v1.1h-1zM54,196.49h1v1.1h-1zM56,196.16h1v1.1h-1zM58,195.82h1v1.1h-1zM60,195.48h1v1.1h-1zM62,195.13h1v1.1h-1zM64,194.77h1v1.1h-1zM66,194.41h1v1.1h-1zM68,194.03h1v1.1h-1zM70,193.64h1v1.1h-1zM72,193.24h1v1.1h-1zM74,192.84h1v1.1h-1zM76,192.42h1v1.1h-1zM78,191.98h1v1.1h-1zM80,191.52h1v1.1h-1zM82,191.06h1v1.1h-1zM84,190.58h1v1.1h-1zM86,190.09h1v1.1h-1zM88,189.59h1v1.1h-1zM90,189.10h1v1.1h-1zM92,188.60h1v1.1h-1zM94,188.10h1v1.1h-1zM96,187.61h1v1.1h-1zM98,187.13h1v1.1h-1zM100,186.65h1v1.1h-1zM102,186.18h1v1.1h-1zM104,185.71h1v1.1h-1zM106,185.24h1v1.1h-1zM108,184.78h1v1.1h-1zM110,184.31h1v1.1h-1zM112,183.84h1v1.1h-1zM114,183.38h1v1.1h-1zM116,182.92h1v1.1h-1zM118,182.46h1v1.1h-1zM120,182.00h1v1.1h-1zM122,181.55h1v1.1h-1zM124,181.10h1v1.1h-1zM126,180.65h1v1.1h-1zM128,180.20h1v1.1h-1zM130,179.75h1v1.1h-1zM132,179.30h1v1.1h-1zM134,178.85h1v1.1h-1zM136,178.41h1v1.1h-1zM138,177.97h1v1.1h-1zM140,177.53h1v1.1h-1zM142,177.09h1v1.1h-1zM144,176.66h1v1.1h-1zM146,176.23h1v1.1h-1zM148,175.81h1v1.1h-1zM150,175.41h1v1.1h-1zM152,175.02h1v1.1h-1zM154,174.65h1v1.1h-1zM156,174.35h1v1.1h-1zM158,174.14h1v1.1h-1zM160,173.98h1v1.1h-1zM162,173.82h1v1.1h-1zM164,173.70h1v1.1h-1zM166,173.60h1v1.1h-1zM168,173.52h1v1.1h-1zM170,173.43h1v1.1h-1zM172,173.33h1v1.1h-1zM174,173.23h1v1.1h-1zM176,173.11h1v1.1h-1zM178,172.99h1v1.1h-1zM180,172.86h1v1.1h-1zM182,172.73h1v1.1h-1zM184,172.60h1v1.1h-1zM186,172.46h1v1.1h-1zM188,172.33h1v1.1h-1zM190,172.20h1v1.1h-1zM192,172.07h1v1.1h-1zM194,171.94h1v1.1h-1zM196,171.81h1v1.1h-1zM198,171.69h1v1.1h-1zM200,171.58h1v1.1h-1zM202,171.47h1v1.1h-1zM204,171.34h1v1.1h-1zM206,171.21h1v1.1h-1zM208,171.09h1v1.1h-1zM210,170.97h1v1.1h-1zM212,170.88h1v1.1h-1zM214,170.83h1v1.1h-1zM216,170.82h1v1.1h-1zM218,170.85h1v1.1h-1zM220,170.92h1v1.1h-1zM222,171.04h1v1.1h-1zM224,171.19h1v1.1h-1zM226,171.36h1v1.1h-1zM228,171.55h1v1.1h-1zM230,171.75h1v1.1h-1zM232,171.95h1v1.1h-1zM234,172.15h1v1.1h-1zM236,172.35h1v1.1h-1zM238,172.53h1v1.1h-1zM240,172.70h1v1.1h-1zM242,172.88h1v1.1h-1zM244,173.05h1v1.1h-1zM246,173.22h1v1.1h-1zM248,173.39h1v1.1h-1zM250,173.56h1v1.1h-1zM252,173.73h1v1.1h-1zM254,173.90h1v1.1h-1zM256,174.07h1v1.1h-1zM258,174.24h1v1.1h-1zM260,174.41h1v1.1h-1zM262,174.59h1v1.1h-1zM264,174.76h1v1.1h-1zM266,174.94h1v1.1h-1zM268,175.12h1v1.1h-1zM270,175.30h1v1.1h-1zM272,175.48h1v1.1h-1zM274,175.65h1v1.1h-1zM276,175.83h1v1.1h-1zM278,176.00h1v1.1h-1zM280,176.17h1v1.1h-1zM282,176.34h1v1.1h-1zM284,176.50h1v1.1h-1zM286,176.66h1v1.1h-1zM288,176.82h1v1.1h-1zM290,176.98h1v1.1h-1zM292,177.13h1v1.1h-1zM294,177.28h1v1.1h-1zM296,177.42h1v1.1h-1zM298,177.55h1v1.1h-1zM300,177.68h1v1.1h-1zM302,177.80h1v1.1h-1zM304,177.92h1v1.1h-1zM306,178.03h1v1.1h-1zM308,178.14h1v1.1h-1zM310,178.24h1v1.1h-1zM312,178.34h1v1.1h-1zM314,178.44h1v1.1h-1zM316,178.53h1v1.1h-1zM318,178.62h1v1.1h-1zM320,178.71h1v1.1h-1zM322,178.80h1v1.1h-1zM324,178.89h1v1.1h-1zM326,178.97h1v1.1h-1zM328,179.06h1v1.1h-1zM330,179.15h1v1.1h-1zM332,179.23h1v1.1h-1zM334,179.32h1v1.1h-1zM336,179.40h1v1.1h-1zM338,179.49h1v1.1h-1zM340,179.58h1v1.1h-1zM342,179.67h1v1.1h-1zM344,179.76h1v1.1h-1zM346,179.86h1v1.1h-1zM348,179.97h1v1.1h-1zM350,180.08h1v1.1h-1zM352,180.19h1v1.1h-1zM354,180.29h1v1.1h-1zM356,180.41h1v1.1h-1zM358,180.74h1v1.1h-1zM360,181.05h1v1.1h-1zM362,181.34h1v1.1h-1zM364,181.62h1v1.1h-1zM366,181.91h1v1.1h-1zM368,182.21h1v1.1h-1zM370,182.50h1v1.1h-1zM372,182.80h1v1.1h-1zM374,183.10h1v1.1h-1zM376,183.40h1v1.1h-1zM378,183.71h1v1.1h-1zM380,184.01h1v1.1h-1zM382,184.31h1v1.1h-1zM384,184.62h1v1.1h-1zM386,184.92h1v1.1h-1zM388,185.23h1v1.1h-1zM390,185.54h1v1.1h-1zM392,185.84h1v1.1h-1zM394,186.15h1v1.1h-1zM396,186.46h1v1.1h-1zM398,186.76h1v1.1h-1zM400,187.07h1v1.1h-1zM402,187.38h1v1.1h-1zM404,187.68h1v1.1h-1zM406,187.99h1v1.1h-1zM408,188.30h1v1.1h-1zM410,188.60h1v1.1h-1zM412,188.91h1v1.1h-1zM414,189.22h1v1.1h-1zM416,189.53h1v1.1h-1zM418,189.83h1v1.1h-1zM420,190.14h1v1.1h-1zM422,190.45h1v1.1h-1zM424,190.76h1v1.1h-1zM426,191.07h1v1.1h-1zM428,191.38h1v1.1h-1zM430,191.69h1v1.1h-1zM432,192.00h1v1.1h-1zM434,192.31h1v1.1h-1zM436,192.62h1v1.1h-1zM438,192.93h1v1.1h-1zM440,193.24h1v1.1h-1zM442,193.55h1v1.1h-1zM444,193.86h1v1.1h-1zM446,194.17h1v1.1h-1zM448,194.48h1v1.1h-1zM450,194.79h1v1.1h-1zM452,195.10h1v1.1h-1zM454,195.41h1v1.1h-1zM456,195.72h1v1.1h-1zM458,196.02h1v1.1h-1zM460,196.33h1v1.1h-1zM462,196.63h1v1.1h-1zM464,196.95h1v1.1h-1zM466,197.27h1v1.1h-1zM468,197.59h1v1.1h-1zM470,197.92h1v1.1h-1zM472,198.24h1v1.1h-1zM474,198.54h1v1.1h-1zM476,198.80h1v1.1h-1zM478,199.04h1v1.1h-1zM480,199.27h1v1.1h-1zM482,199.48h1v1.1h-1zM484,199.68h1v1.1h-1zM486,199.89h1v1.1h-1zM488,200.09h1v1.1h-1zM490,200.29h1v1.1h-1zM492,200.47h1v1.1h-1zM494,200.65h1v1.1h-1zM496,200.82h1v1.1h-1zM498,200.98h1v1.1h-1zM500,201.12h1v1.1h-1zM502,201.26h1v1.1h-1zM504,201.38h1v1.1h-1zM506,201.49h1v1.1h-1zM508,201.58h1v1.1h-1zM510,201.67h1v1.1h-1zM512,201.75h1v1.1h-1zM514,201.81h1v1.1h-1zM516,201.86h1v1.1h-1zM518,201.90h1v1.1h-1zM520,201.93h1v1.1h-1zM522,201.96h1v1.1h-1zM524,201.98h1v1.1h-1zM526,201.99h1v1.1h-1zM528,202.00h1v1.1h-1zM530,202.01h1v1.1h-1zM532,202.01h1v1.1h-1zM534,202.01h1v1.1h-1zM536,202.01h1v1.1h-1zM538,202.01h1v1.1h-1zM540,202.01h1v1.1h-1zM542,202.01h1v1.1h-1zM544,202.00h1v1.1h-1zM546,202.00h1v1.1h-1zM548,202.00h1v1.1h-1zM550,202.00h1v1.1h-1zM552,202.01h1v1.1h-1zM554,202.02h1v1.1h-1zM556,202.03h1v1.1h-1zM558,202.04h1v1.1h-1zM560,202.06h1v1.1h-1zM562,202.08h1v1.1h-1zM564,202.09h1v1.1h-1zM566,202.10h1v1.1h-1zM568,202.10h1v1.1h-1zM570,202.11h1v1.1h-1zM572,202.11h1v1.1h-1zM574,202.12h1v1.1h-1zM576,202.12h1v1.1h-1zM578,202.13h1v1.1h-1zM580,202.14h1v1.1h-1zM582,202.16h1v1.1h-1zM584,202.18h1v1.1h-1zM586,202.21h1v1.1h-1zM588,202.25h1v1.1h-1zM590,202.30h1v1.1h-1zM592,202.35h1v1.1h-1zM594,202.42h1v1.1h-1zM596,202.49h1v1.1h-1zM598,202.58h1v1.1h-1zM600,202.67h1v1.1h-1zM602,202.78h1v1.1h-1zM604,202.90h1v1.1h-1zM606,203.02h1v1.1h-1zM608,203.15h1v1.1h-1zM610,203.29h1v1.1h-1zM612,203.44h1v1.1h-1zM614,203.59h1v1.1h-1zM616,203.75h1v1.1h-1zM618,203.91h1v1.1h-1zM620,204.07h1v1.1h-1zM622,204.24h1v1.1h-1zM624,204.41h1v1.1h-1zM626,204.59h1v1.1h-1zM628,204.76h1v1.1h-1zM630,204.94h1v1.1h-1zM632,205.11h1v1.1h-1zM634,205.29h1v1.1h-1zM636,205.46h1v1.1h-1zM638,205.64h1v1.1h-1zM640,205.81h1v1.1h-1zM642,205.98h1v1.1h-1zM644,206.15h1v1.1h-1zM646,206.32h1v1.1h-1zM648,206.48h1v1.1h-1zM650,206.64h1v1.1h-1zM652,206.80h1v1.1h-1zM654,206.97h1v1.1h-1zM656,207.13h1v1.1h-1zM658,207.29h1v1.1h-1zM660,207.45h1v1.1h-1zM662,207.61h1v1.1h-1zM664,207.77h1v1.1h-1zM666,207.93h1v1.1h-1zM668,208.09h1v1.1h-1zM670,208.25h1v1.1h-1zM672,208.41h1v1.1h-1zM674,208.57h1v1.1h-1zM676,208.74h1v1.1h-1zM678,208.90h1v1.1h-1zM680,209.07h1v1.1h-1zM682,209.24h1v1.1h-1zM684,209.41h1v1.1h-1zM686,209.58h1v1.1h-1zM688,209.76h1v1.1h-1zM690,209.94h1v1.1h-1zM692,210.12h1v1.1h-1zM694,210.31h1v1.1h-1zM696,210.50h1v1.1h-1zM698,210.70h1v1.1h-1zM700,210.90h1v1.1h-1zM702,211.12h1v1.1h-1zM704,211.35h1v1.1h-1zM706,211.60h1v1.1h-1zM708,211.86h1v1.1h-1zM710,212.15h1v1.1h-1zM712,212.45h1v1.1h-1zM714,212.78h1v1.1h-1zM716,213.12h1v1.1h-1zM718,213.47h1v1.1h-1zM720,213.81h1v1.1h-1zM722,214.14h1v1.1h-1zM724,214.46h1v1.1h-1zM726,214.76h1v1.1h-1zM728,215.04h1v1.1h-1zM730,215.32h1v1.1h-1zM732,215.60h1v1.1h-1zM734,215.88h1v1.1h-1zM736,216.16h1v1.1h-1zM738,216.44h1v1.1h-1zM740,216.73h1v1.1h-1zM742,217.03h1v1.1h-1zM744,217.35h1v1.1h-1zM746,217.68h1v1.1h-1zM748,218.03h1v1.1h-1zM750,218.41h1v1.1h-1zM752,218.80h1v1.1h-1zM754,219.21h1v1.1h-1zM756,219.64h1v1.1h-1zM758,220.08h1v1.1h-1zM760,220.54h1v1.1h-1zM762,221.00h1v1.1h-1zM764,221.48h1v1.1h-1zM766,221.96h1v1.1h-1zM768,222.45h1v1.1h-1zM770,222.95h1v1.1h-1zM772,223.45h1v1.1h-1zM774,223.95h1v1.1h-1zM776,224.45h1v1.1h-1zM778,224.97h1v1.1h-1zM780,225.49h1v1.1h-1zM782,226.02h1v1.1h-1zM784,226.56h1v1.1h-1zM786,227.10h1v1.1h-1zM788,227.65h1v1.1h-1zM790,228.21h1v1.1h-1zM792,228.76h1v1.1h-1zM794,229.32h1v1.1h-1zM796,229.87h1v1.1h-1zM798,230.43h1v1.1h-1zM800,230.98h1v1.1h-1zM802,231.53h1v1.1h-1zM804,232.08h1v1.1h-1zM806,232.64h1v1.1h-1zM808,233.20h1v1.1h-1zM810,233.76h1v1.1h-1zM812,234.32h1v1.1h-1zM814,234.89h1v1.1h-1zM816,235.45h1v1.1h-1zM818,236.01h1v1.1h-1zM820,236.57h1v1.1h-1zM822,237.12h1v1.1h-1zM824,237.67h1v1.1h-1zM826,238.23h1v1.1h-1zM828,238.78h1v1.1h-1zM830,239.33h1v1.1h-1zM832,239.88h1v1.1h-1zM834,240.43h1v1.1h-1zM836,240.98h1v1.1h-1zM838,241.52h1v1.1h-1zM840,242.07h1v1.1h-1zM842,242.61h1v1.1h-1zM844,243.14h1v1.1h-1zM846,243.68h1v1.1h-1zM848,244.20h1v1.1h-1zM850,244.72h1v1.1h-1zM852,245.24h1v1.1h-1zM854,245.75h1v1.1h-1zM856,246.26h1v1.1h-1zM858,246.76h1v1.1h-1zM860,247.26h1v1.1h-1zM862,247.75h1v1.1h-1zM864,248.24h1v1.1h-1zM866,248.73h1v1.1h-1zM868,249.22h1v1.1h-1zM870,249.70h1v1.1h-1zM872,250.18h1v1.1h-1zM874,250.66h1v1.1h-1zM876,251.14h1v1.1h-1zM878,251.62h1v1.1h-1zM880,252.10h1v1.1h-1zM882,252.59h1v1.1h-1zM884,253.07h1v1.1h-1zM886,253.54h1v1.1h-1zM888,254.02h1v1.1h-1zM890,254.48h1v1.1h-1zM892,254.94h1v1.1h-1zM894,255.39h1v1.1h-1zM896,255.84h1v1.1h-1zM898,256.27h1v1.1h-1zM900,256.69h1v1.1h-1zM902,257.09h1v1.1h-1zM904,257.49h1v1.1h-1zM906,257.87h1v1.1h-1zM908,258.24h1v1.1h-1zM910,258.61h1v1.1h-1zM912,258.97h1v1.1h-1zM914,259.32h1v1.1h-1zM916,259.68h1v1.1h-1zM918,260.03h1v1.1h-1zM920,260.38h1v1.1h-1zM922,260.72h1v1.1h-1zM924,261.07h1v1.1h-1zM926,261.42h1v1.1h-1z" fill="#c246ae" fill-opacity="0.95"/></g>
<path d="M0.0,70.1 C1.3,69.2 5.2,66.9 7.8,64.6 C10.4,62.2 13.5,57.8 15.6,56.0 C17.7,54.2 18.5,54.1 20.3,54.1 C22.1,54.1 23.9,56.1 26.6,55.7 C29.4,55.3 33.5,52.3 36.8,51.8 C40.1,51.3 43.8,52.0 46.2,52.8 C48.6,53.6 49.5,55.2 51.0,56.5 C52.5,57.8 53.5,58.4 55.0,60.6 C56.5,62.9 58.1,66.1 60.2,70.0 C62.3,73.9 65.3,79.9 67.8,83.8 C70.3,87.7 73.0,90.5 75.3,93.2 C77.6,95.9 79.5,98.5 81.6,100.2 C83.7,101.9 85.7,103.3 87.8,103.4 C89.9,103.5 92.0,101.5 94.1,100.6 C96.2,99.6 97.7,98.4 100.4,97.7 C103.1,97.0 107.3,96.7 110.4,96.6 C113.5,96.5 116.3,97.5 119.2,97.3 C122.1,97.1 125.7,96.2 128.0,95.6 C130.3,95.0 130.9,95.2 133.0,93.8 C135.1,92.4 137.9,89.2 140.8,87.3 C143.7,85.4 147.0,83.2 150.2,82.2 C153.4,81.2 156.3,80.5 160.2,81.0 C164.1,81.5 169.2,83.2 173.5,84.9 C177.8,86.6 183.3,89.5 186.0,91.2 C188.7,92.9 188.1,93.4 189.9,95.0 C191.7,96.6 195.0,98.8 196.9,100.6 C198.8,102.4 199.0,103.4 201.6,106.0 C204.2,108.6 209.5,113.8 212.6,116.1 C215.7,118.4 217.5,118.0 220.4,120.0 C223.3,122.0 226.9,124.2 229.8,127.9 C232.7,131.6 235.7,138.2 237.6,141.9 C239.5,145.6 239.9,146.9 241.5,150.0 C243.1,153.1 244.0,156.0 247.0,160.7 C250.0,165.4 253.5,172.7 259.5,178.2 C265.5,183.7 276.2,189.0 283.0,193.8 C289.8,198.6 295.7,204.2 300.2,207.1 C304.7,210.0 306.1,210.3 310.0,211.3 C313.9,212.3 318.6,213.4 323.5,213.2 C328.4,213.0 332.6,211.1 339.1,210.1 C345.6,209.1 356.1,206.8 362.6,207.0 C369.1,207.2 373.0,209.4 378.2,211.6 C383.4,213.8 388.7,216.9 393.9,220.3 C399.1,223.7 405.3,228.7 409.5,232.0 C413.7,235.3 416.3,238.0 418.9,240.0 C421.5,242.0 421.5,242.1 425.2,244.1 C428.9,246.1 436.7,249.7 440.8,251.9 C444.9,254.1 445.9,254.7 450.0,257.1 C454.1,259.5 460.4,264.4 465.6,266.5 C470.8,268.6 477.1,269.3 481.3,269.6 C485.5,269.9 486.8,269.8 490.7,268.5 C494.6,267.2 500.4,264.0 504.8,261.8 C509.2,259.6 512.9,257.1 517.3,255.5 C521.7,253.9 527.0,254.1 531.4,252.4 C535.8,250.7 540.8,247.2 543.9,245.3 C547.0,243.4 547.6,242.9 550.2,241.0 C552.8,239.1 556.6,235.6 559.5,233.6 C562.4,231.6 564.0,231.4 567.4,228.9 C570.8,226.4 576.0,221.9 579.9,218.7 C583.8,215.5 587.7,211.7 590.8,209.8 C593.9,207.9 595.5,207.2 598.7,207.3 C601.9,207.4 605.9,209.1 610.0,210.1 C614.1,211.1 617.4,210.8 623.5,213.2 C629.6,215.6 639.1,221.0 646.9,224.4 C654.7,227.8 664.6,231.5 670.4,233.8 C676.1,236.2 677.5,236.3 681.4,238.5 C685.3,240.7 689.2,244.8 693.9,247.1 C698.6,249.4 704.3,250.6 709.5,252.6 C714.7,254.6 720.1,256.6 725.2,258.9 C730.3,261.2 735.6,264.1 740.2,266.2 C744.8,268.3 748.9,269.4 752.7,271.3 C756.5,273.2 760.1,275.6 762.8,277.8 C765.5,280.0 765.9,281.0 769.0,284.5 C772.1,288.0 776.6,293.5 781.3,299.0 C785.9,304.5 791.7,312.1 796.9,317.7 C802.1,323.3 807.4,328.4 812.6,332.6 C817.8,336.8 823.0,339.4 828.2,343.0 C833.4,346.6 839.2,351.0 843.9,354.3 C848.6,357.6 853.0,360.8 856.4,362.9 C859.8,365.0 861.1,366.3 864.2,367.2 C867.3,368.1 870.8,368.0 875.2,368.3 C879.6,368.6 886.6,368.8 890.8,369.1 C895.0,369.4 897.0,369.9 900.2,369.9 C903.4,369.9 905.5,369.4 910.0,369.1 C914.5,368.8 924.5,368.2 927.4,368.0" fill="none" stroke="#7363b8" stroke-width="1"/>
<rect x="382.5" y="242.5" width="134.3" height="50.9" fill="none" stroke="#505050" stroke-width="0.95" stroke-opacity="0.8"/>
<rect x="762.8" y="346.5" width="187.7" height="37.7" fill="none" stroke="#505050" stroke-width="0.95" stroke-opacity="0.8"/>
</g>
<line x1="0" y1="28.6" x2="977" y2="28.6" stroke="#4a4a4a" stroke-width="1.05" stroke-opacity="0.68"/>
<line x1="0" y1="166.0" x2="977" y2="166.0" stroke="#4a4a4a" stroke-width="1.05" stroke-opacity="0.68"/>
<line x1="0" y1="284.5" x2="977" y2="284.5" stroke="#4a4a4a" stroke-width="1.05" stroke-opacity="0.68"/>
<line x1="0" y1="304.6" x2="977" y2="304.6" stroke="#4a4a4a" stroke-width="1.05" stroke-opacity="0.68"/>
<path d="M930,366.85h1v0.9h-1zM932,366.85h1v0.9h-1zM934,366.85h1v0.9h-1zM936,366.85h1v0.9h-1zM938,366.85h1v0.9h-1zM940,366.85h1v0.9h-1zM942,366.85h1v0.9h-1zM944,366.85h1v0.9h-1zM946,366.85h1v0.9h-1zM948,366.85h1v0.9h-1zM950,366.85h1v0.9h-1zM952,366.85h1v0.9h-1zM954,366.85h1v0.9h-1zM956,366.85h1v0.9h-1zM958,366.85h1v0.9h-1zM960,366.85h1v0.9h-1zM962,366.85h1v0.9h-1zM964,366.85h1v0.9h-1zM966,366.85h1v0.9h-1zM968,366.85h1v0.9h-1zM970,366.85h1v0.9h-1zM972,366.85h1v0.9h-1z" fill="#ee2c66" fill-opacity="0.85"/>
<g fill="#6c6c6c" stroke="#6c6c6c" stroke-width="0.15" font-weight="normal">
<text x="772.70" y="408.2" font-size="6.88" style="font-family:'Liberation Sans',sans-serif" textLength="3.67" lengthAdjust="spacingAndGlyphs">0</text>
<text x="776.37" y="408.2" font-size="7.4" textLength="3.67" lengthAdjust="spacingAndGlyphs">.</text>
<text x="780.03" y="408.2" font-size="6.88" style="font-family:'Liberation Sans',sans-serif" textLength="14.67" lengthAdjust="spacingAndGlyphs">3060</text>
</g>
<line x1="974.1" y1="20" x2="974.1" y2="518" stroke="#e4e4e4" stroke-width="1.3"/>
<line x1="974.5" y1="59.7" x2="977.5" y2="59.7" stroke="#666" stroke-width="0.9"/>
<g fill="#5a5a5a" stroke="#5a5a5a" stroke-width="0.22" font-weight="normal">
<text x="982.50" y="62.3" font-size="6.88" style="font-family:'Liberation Sans',sans-serif" textLength="3.75" lengthAdjust="spacingAndGlyphs">1</text>
<text x="986.25" y="62.3" font-size="7.4" textLength="3.75" lengthAdjust="spacingAndGlyphs">.</text>
<text x="990.00" y="62.3" font-size="6.88" style="font-family:'Liberation Sans',sans-serif" textLength="3.75" lengthAdjust="spacingAndGlyphs">3</text>
</g>
<line x1="974.5" y1="93.62000000000003" x2="977.5" y2="93.62000000000003" stroke="#666" stroke-width="0.9"/>
<g fill="#5a5a5a" stroke="#5a5a5a" stroke-width="0.22" font-weight="normal">
<text x="982.50" y="96.2" font-size="6.88" style="font-family:'Liberation Sans',sans-serif" textLength="3.75" lengthAdjust="spacingAndGlyphs">1</text>
<text x="986.25" y="96.2" font-size="7.4" textLength="3.75" lengthAdjust="spacingAndGlyphs">.</text>
<text x="990.00" y="96.2" font-size="6.88" style="font-family:'Liberation Sans',sans-serif" textLength="3.75" lengthAdjust="spacingAndGlyphs">2</text>
</g>
<line x1="974.5" y1="195.38" x2="977.5" y2="195.38" stroke="#666" stroke-width="0.9"/>
<g fill="#5a5a5a" stroke="#5a5a5a" stroke-width="0.22" font-weight="normal">
<text x="982.50" y="198.0" font-size="6.88" style="font-family:'Liberation Sans',sans-serif" textLength="3.75" lengthAdjust="spacingAndGlyphs">0</text>
<text x="986.25" y="198.0" font-size="7.4" textLength="3.75" lengthAdjust="spacingAndGlyphs">.</text>
<text x="990.00" y="198.0" font-size="6.88" style="font-family:'Liberation Sans',sans-serif" textLength="3.75" lengthAdjust="spacingAndGlyphs">9</text>
</g>
<line x1="974.5" y1="229.3" x2="977.5" y2="229.3" stroke="#666" stroke-width="0.9"/>
<g fill="#5a5a5a" stroke="#5a5a5a" stroke-width="0.22" font-weight="normal">
<text x="982.50" y="231.9" font-size="6.88" style="font-family:'Liberation Sans',sans-serif" textLength="3.75" lengthAdjust="spacingAndGlyphs">0</text>
<text x="986.25" y="231.9" font-size="7.4" textLength="3.75" lengthAdjust="spacingAndGlyphs">.</text>
<text x="990.00" y="231.9" font-size="6.88" style="font-family:'Liberation Sans',sans-serif" textLength="3.75" lengthAdjust="spacingAndGlyphs">8</text>
</g>
<line x1="974.5" y1="331.06" x2="977.5" y2="331.06" stroke="#666" stroke-width="0.9"/>
<g fill="#5a5a5a" stroke="#5a5a5a" stroke-width="0.22" font-weight="normal">
<text x="982.50" y="333.7" font-size="6.88" style="font-family:'Liberation Sans',sans-serif" textLength="3.75" lengthAdjust="spacingAndGlyphs">0</text>
<text x="986.25" y="333.7" font-size="7.4" textLength="3.75" lengthAdjust="spacingAndGlyphs">.</text>
<text x="990.00" y="333.7" font-size="6.88" style="font-family:'Liberation Sans',sans-serif" textLength="3.75" lengthAdjust="spacingAndGlyphs">5</text>
</g>
<line x1="974.5" y1="398.9" x2="977.5" y2="398.9" stroke="#666" stroke-width="0.9"/>
<g fill="#5a5a5a" stroke="#5a5a5a" stroke-width="0.22" font-weight="normal">
<text x="982.50" y="401.5" font-size="6.88" style="font-family:'Liberation Sans',sans-serif" textLength="3.75" lengthAdjust="spacingAndGlyphs">0</text>
<text x="986.25" y="401.5" font-size="7.4" textLength="3.75" lengthAdjust="spacingAndGlyphs">.</text>
<text x="990.00" y="401.5" font-size="6.88" style="font-family:'Liberation Sans',sans-serif" textLength="3.75" lengthAdjust="spacingAndGlyphs">3</text>
</g>
<line x1="974.5" y1="297.14000000000004" x2="977.5" y2="297.14000000000004" stroke="#666" stroke-width="0.9"/>
<line x1="974.5" y1="25.78000000000005" x2="977.5" y2="25.78000000000005" stroke="#666" stroke-width="0.9"/>
<g fill="#5a5a5a" stroke="#5a5a5a" stroke-width="0.22" font-weight="normal">
<text x="982.50" y="31.1" font-size="6.88" style="font-family:'Liberation Sans',sans-serif" textLength="3.75" lengthAdjust="spacingAndGlyphs">1</text>
<text x="986.25" y="31.1" font-size="7.4" textLength="3.75" lengthAdjust="spacingAndGlyphs">.</text>
<text x="990.00" y="31.1" font-size="6.88" style="font-family:'Liberation Sans',sans-serif" textLength="15.00" lengthAdjust="spacingAndGlyphs">3919</text>
</g>
<path d="M974.8,127.7 l3,-1.6 v3.2z" fill="#e8820c"/>
<g fill="#5a5a5a" stroke="#5a5a5a" stroke-width="0.22" font-weight="normal">
<text x="982.50" y="130.4" font-size="6.88" style="font-family:'Liberation Sans',sans-serif" textLength="3.75" lengthAdjust="spacingAndGlyphs">1</text>
<text x="986.25" y="130.4" font-size="7.4" textLength="3.75" lengthAdjust="spacingAndGlyphs">.</text>
<text x="990.00" y="130.4" font-size="6.88" style="font-family:'Liberation Sans',sans-serif" textLength="15.00" lengthAdjust="spacingAndGlyphs">0993</text>
</g>
<g fill="#5a5a5a" stroke="#5a5a5a" stroke-width="0.22" font-weight="normal">
<text x="982.50" y="168.6" font-size="6.88" style="font-family:'Liberation Sans',sans-serif" textLength="3.75" lengthAdjust="spacingAndGlyphs">0</text>
<text x="986.25" y="168.6" font-size="7.4" textLength="3.75" lengthAdjust="spacingAndGlyphs">.</text>
<text x="990.00" y="168.6" font-size="6.88" style="font-family:'Liberation Sans',sans-serif" textLength="15.00" lengthAdjust="spacingAndGlyphs">9871</text>
</g>
<line x1="974.5" y1="161.46" x2="977.5" y2="161.46" stroke="#666" stroke-width="0.9"/>
<g fill="#5a5a5a" stroke="#5a5a5a" stroke-width="0.22" font-weight="normal">
<text x="982.50" y="287.1" font-size="6.88" style="font-family:'Liberation Sans',sans-serif" textLength="3.75" lengthAdjust="spacingAndGlyphs">0</text>
<text x="986.25" y="287.1" font-size="7.4" textLength="3.75" lengthAdjust="spacingAndGlyphs">.</text>
<text x="990.00" y="287.1" font-size="6.88" style="font-family:'Liberation Sans',sans-serif" textLength="15.00" lengthAdjust="spacingAndGlyphs">6366</text>
</g>
<g fill="#5a5a5a" stroke="#5a5a5a" stroke-width="0.22" font-weight="normal">
<text x="982.50" y="307.2" font-size="6.88" style="font-family:'Liberation Sans',sans-serif" textLength="3.75" lengthAdjust="spacingAndGlyphs">0</text>
<text x="986.25" y="307.2" font-size="7.4" textLength="3.75" lengthAdjust="spacingAndGlyphs">.</text>
<text x="990.00" y="307.2" font-size="6.88" style="font-family:'Liberation Sans',sans-serif" textLength="15.00" lengthAdjust="spacingAndGlyphs">5778</text>
</g>
<rect x="974" y="257.2" width="33" height="10" fill="#b700a4"/><rect x="974" y="257.2" width="6" height="10" fill="#cc48c6"/>
<line x1="974.3" y1="262.6" x2="978" y2="262.6" stroke="#5a0a50" stroke-width="0.9"/>
<g fill="#ff8ef4" stroke="#ff8ef4" stroke-width="0.22" font-weight="normal">
<text x="982.50" y="264.9" font-size="6.88" style="font-family:'Liberation Sans',sans-serif" textLength="3.75" lengthAdjust="spacingAndGlyphs">0</text>
<text x="986.25" y="264.9" font-size="7.4" textLength="3.75" lengthAdjust="spacingAndGlyphs">.</text>
<text x="990.00" y="264.9" font-size="6.88" style="font-family:'Liberation Sans',sans-serif" textLength="15.00" lengthAdjust="spacingAndGlyphs">7024</text>
</g>
<rect x="974" y="362" width="33" height="10.2" fill="#f43f7b"/><rect x="974" y="362" width="6" height="10.2" fill="#f86d9b"/>
<line x1="974.3" y1="365.2" x2="978" y2="365.2" stroke="#9a2050" stroke-width="0.9"/>
<g fill="#7d0c3a" stroke="#7d0c3a" stroke-width="0.22" font-weight="normal">
<text x="982.50" y="369.9" font-size="6.88" style="font-family:'Liberation Sans',sans-serif" textLength="3.75" lengthAdjust="spacingAndGlyphs">0</text>
<text x="986.25" y="369.9" font-size="7.4" textLength="3.75" lengthAdjust="spacingAndGlyphs">.</text>
<text x="990.00" y="369.9" font-size="6.88" style="font-family:'Liberation Sans',sans-serif" textLength="15.00" lengthAdjust="spacingAndGlyphs">3934</text>
</g>
<line x1="0" y1="418.4" x2="1024" y2="418.4" stroke="#d4d4d4" stroke-width="1"/>
<line x1="0" y1="469.7" x2="1024" y2="469.7" stroke="#d0d0d0" stroke-width="1.4"/>
<rect x="-0.05" y="433.6" width="3.1" height="32.9" fill="#effaf4" stroke="#559a7c" stroke-width="0.65" stroke-opacity="0.95"/>
<rect x="4.90" y="421.5" width="3.1" height="45.0" fill="#effaf4" stroke="#559a7c" stroke-width="0.65" stroke-opacity="0.95"/>
<rect x="9.45" y="446.9" width="3.9" height="19.6" fill="#f90f4d"/>
<rect x="14.40" y="452.1" width="3.9" height="14.4" fill="#f90f4d"/>
<rect x="19.35" y="456.0" width="3.9" height="10.5" fill="#f90f4d"/>
<rect x="24.30" y="454.0" width="3.9" height="12.5" fill="#f90f4d"/>
<rect x="29.66" y="456.7" width="3.1" height="9.8" fill="#effaf4" stroke="#559a7c" stroke-width="0.65" stroke-opacity="0.95"/>
<rect x="34.61" y="455.5" width="3.1" height="11.0" fill="#effaf4" stroke="#559a7c" stroke-width="0.65" stroke-opacity="0.95"/>
<rect x="39.16" y="454.0" width="3.9" height="12.5" fill="#f90f4d"/>
<rect x="44.51" y="456.4" width="3.1" height="10.1" fill="#effaf4" stroke="#559a7c" stroke-width="0.65" stroke-opacity="0.95"/>
<rect x="49.46" y="454.4" width="3.1" height="12.1" fill="#effaf4" stroke="#559a7c" stroke-width="0.65" stroke-opacity="0.95"/>
<rect x="54.41" y="452.8" width="3.1" height="13.7" fill="#effaf4" stroke="#559a7c" stroke-width="0.65" stroke-opacity="0.95"/>
<rect x="59.36" y="457.0" width="3.1" height="9.5" fill="#effaf4" stroke="#559a7c" stroke-width="0.65" stroke-opacity="0.95"/>
<rect x="64.31" y="458.8" width="3.1" height="7.7" fill="#effaf4" stroke="#559a7c" stroke-width="0.65" stroke-opacity="0.95"/>
<rect x="68.86" y="460.7" width="3.9" height="5.8" fill="#f90f4d"/>
<rect x="73.81" y="458.4" width="3.9" height="8.1" fill="#f90f4d"/>
<rect x="79.17" y="459.9" width="3.1" height="6.6" fill="#effaf4" stroke="#559a7c" stroke-width="0.65" stroke-opacity="0.95"/>
<rect x="84.12" y="457.5" width="3.1" height="9.0" fill="#effaf4" stroke="#559a7c" stroke-width="0.65" stroke-opacity="0.95"/>
<rect x="89.07" y="455.2" width="3.1" height="11.3" fill="#effaf4" stroke="#559a7c" stroke-width="0.65" stroke-opacity="0.95"/>
<rect x="93.62" y="457.1" width="3.9" height="9.4" fill="#f90f4d"/>
<rect x="98.97" y="459.9" width="3.1" height="6.6" fill="#effaf4" stroke="#559a7c" stroke-width="0.65" stroke-opacity="0.95"/>
<rect x="103.92" y="461.9" width="3.1" height="4.6" fill="#effaf4" stroke="#559a7c" stroke-width="0.65" stroke-opacity="0.95"/>
<rect x="108.87" y="458.0" width="3.1" height="8.5" fill="#effaf4" stroke="#559a7c" stroke-width="0.65" stroke-opacity="0.95"/>
<rect x="113.42" y="457.6" width="3.9" height="8.9" fill="#f90f4d"/>
<rect x="118.37" y="459.1" width="3.9" height="7.4" fill="#f90f4d"/>
<rect x="123.72" y="459.1" width="3.1" height="7.4" fill="#effaf4" stroke="#559a7c" stroke-width="0.65" stroke-opacity="0.95"/>
<rect x="128.68" y="459.9" width="3.1" height="6.6" fill="#effaf4" stroke="#559a7c" stroke-width="0.65" stroke-opacity="0.95"/>
<rect x="133.63" y="462.2" width="3.1" height="4.3" fill="#effaf4" stroke="#559a7c" stroke-width="0.65" stroke-opacity="0.95"/>
<rect x="138.58" y="459.1" width="3.1" height="7.4" fill="#effaf4" stroke="#559a7c" stroke-width="0.65" stroke-opacity="0.95"/>
<rect x="143.53" y="459.5" width="3.1" height="7.0" fill="#effaf4" stroke="#559a7c" stroke-width="0.65" stroke-opacity="0.95"/>
<rect x="148.08" y="456.5" width="3.9" height="10.0" fill="#f90f4d"/>
<rect x="153.03" y="454.8" width="3.9" height="11.7" fill="#f90f4d"/>
<rect x="158.38" y="456.5" width="3.1" height="10.0" fill="#effaf4" stroke="#559a7c" stroke-width="0.65" stroke-opacity="0.95"/>
<rect x="162.93" y="451.9" width="3.9" height="14.6" fill="#f90f4d"/>
<rect x="167.88" y="457.7" width="3.9" height="8.8" fill="#f90f4d"/>
<rect x="173.24" y="460.5" width="3.1" height="6.0" fill="#effaf4" stroke="#559a7c" stroke-width="0.65" stroke-opacity="0.95"/>
<rect x="177.79" y="457.7" width="3.9" height="8.8" fill="#f90f4d"/>
<rect x="183.14" y="460.5" width="3.1" height="6.0" fill="#effaf4" stroke="#559a7c" stroke-width="0.65" stroke-opacity="0.95"/>
<rect x="188.09" y="460.5" width="3.1" height="6.0" fill="#effaf4" stroke="#559a7c" stroke-width="0.65" stroke-opacity="0.95"/>
<rect x="192.64" y="461.0" width="3.9" height="5.5" fill="#f90f4d"/>
<rect x="197.99" y="463.0" width="3.1" height="3.5" fill="#effaf4" stroke="#559a7c" stroke-width="0.65" stroke-opacity="0.95"/>
<rect x="202.94" y="464.0" width="3.1" height="2.5" fill="#effaf4" stroke="#559a7c" stroke-width="0.65" stroke-opacity="0.95"/>
<rect x="207.49" y="462.6" width="3.9" height="3.9" fill="#f90f4d"/>
<rect x="212.44" y="462.0" width="3.9" height="4.5" fill="#f90f4d"/>
<rect x="217.39" y="463.0" width="3.9" height="3.5" fill="#f90f4d"/>
<rect x="222.34" y="463.0" width="3.9" height="3.5" fill="#f90f4d"/>
<rect x="227.30" y="462.4" width="3.9" height="4.1" fill="#f90f4d"/>
<rect x="232.25" y="456.5" width="3.9" height="10.0" fill="#f90f4d"/>
<rect x="237.20" y="452.6" width="3.9" height="13.9" fill="#f90f4d"/>
<rect x="242.55" y="458.9" width="3.1" height="7.6" fill="#effaf4" stroke="#559a7c" stroke-width="0.65" stroke-opacity="0.95"/>
<rect x="247.10" y="455.2" width="3.9" height="11.3" fill="#f90f4d"/>
<rect x="252.45" y="459.5" width="3.1" height="7.0" fill="#effaf4" stroke="#559a7c" stroke-width="0.65" stroke-opacity="0.95"/>
<rect x="257.40" y="455.6" width="3.1" height="10.9" fill="#effaf4" stroke="#559a7c" stroke-width="0.65" stroke-opacity="0.95"/>
<rect x="262.35" y="458.1" width="3.1" height="8.4" fill="#effaf4" stroke="#559a7c" stroke-width="0.65" stroke-opacity="0.95"/>
<rect x="267.30" y="459.5" width="3.1" height="7.0" fill="#effaf4" stroke="#559a7c" stroke-width="0.65" stroke-opacity="0.95"/>
<rect x="271.86" y="459.7" width="3.9" height="6.8" fill="#f90f4d"/>
<rect x="276.81" y="461.0" width="3.9" height="5.5" fill="#f90f4d"/>
<rect x="282.16" y="461.4" width="3.1" height="5.1" fill="#effaf4" stroke="#559a7c" stroke-width="0.65" stroke-opacity="0.95"/>
<rect x="286.71" y="463.0" width="3.9" height="3.5" fill="#f90f4d"/>
<rect x="291.66" y="460.6" width="3.9" height="5.9" fill="#f90f4d"/>
<rect x="297.01" y="461.4" width="3.1" height="5.1" fill="#effaf4" stroke="#559a7c" stroke-width="0.65" stroke-opacity="0.95"/>
<rect x="301.96" y="460.1" width="3.1" height="6.4" fill="#effaf4" stroke="#559a7c" stroke-width="0.65" stroke-opacity="0.95"/>
<rect x="306.91" y="460.1" width="3.1" height="6.4" fill="#effaf4" stroke="#559a7c" stroke-width="0.65" stroke-opacity="0.95"/>
<rect x="311.86" y="462.0" width="3.1" height="4.5" fill="#effaf4" stroke="#559a7c" stroke-width="0.65" stroke-opacity="0.95"/>
<rect x="316.81" y="461.0" width="3.1" height="5.5" fill="#effaf4" stroke="#559a7c" stroke-width="0.65" stroke-opacity="0.95"/>
<rect x="321.37" y="459.1" width="3.9" height="7.4" fill="#f90f4d"/>
<rect x="326.72" y="462.0" width="3.1" height="4.5" fill="#effaf4" stroke="#559a7c" stroke-width="0.65" stroke-opacity="0.95"/>
<rect x="331.27" y="460.5" width="3.9" height="6.0" fill="#f90f4d"/>
<rect x="336.22" y="461.0" width="3.9" height="5.5" fill="#f90f4d"/>
<rect x="341.17" y="462.4" width="3.9" height="4.1" fill="#f90f4d"/>
<rect x="346.12" y="463.0" width="3.9" height="3.5" fill="#f90f4d"/>
<rect x="351.47" y="462.8" width="3.1" height="3.7" fill="#effaf4" stroke="#559a7c" stroke-width="0.65" stroke-opacity="0.95"/>
<rect x="356.42" y="464.0" width="3.1" height="2.5" fill="#effaf4" stroke="#559a7c" stroke-width="0.65" stroke-opacity="0.95"/>
<rect x="360.97" y="463.0" width="3.9" height="3.5" fill="#f90f4d"/>
<rect x="365.92" y="461.0" width="3.9" height="5.5" fill="#f90f4d"/>
<rect x="370.88" y="461.6" width="3.9" height="4.9" fill="#f90f4d"/>
<rect x="376.23" y="462.4" width="3.1" height="4.1" fill="#effaf4" stroke="#559a7c" stroke-width="0.65" stroke-opacity="0.95"/>
<rect x="380.78" y="461.0" width="3.9" height="5.5" fill="#f90f4d"/>
<rect x="385.73" y="457.5" width="3.9" height="9.0" fill="#f90f4d"/>
<rect x="391.08" y="460.5" width="3.1" height="6.0" fill="#effaf4" stroke="#559a7c" stroke-width="0.65" stroke-opacity="0.95"/>
<rect x="395.63" y="461.0" width="3.9" height="5.5" fill="#f90f4d"/>
<rect x="400.98" y="455.0" width="3.1" height="11.5" fill="#effaf4" stroke="#559a7c" stroke-width="0.65" stroke-opacity="0.95"/>
<rect x="405.93" y="459.9" width="3.1" height="6.6" fill="#effaf4" stroke="#559a7c" stroke-width="0.65" stroke-opacity="0.95"/>
<rect x="410.48" y="462.0" width="3.9" height="4.5" fill="#f90f4d"/>
<rect x="415.43" y="461.4" width="3.9" height="5.1" fill="#f90f4d"/>
<rect x="420.78" y="461.8" width="3.1" height="4.7" fill="#effaf4" stroke="#559a7c" stroke-width="0.65" stroke-opacity="0.95"/>
<rect x="425.74" y="461.0" width="3.1" height="5.5" fill="#effaf4" stroke="#559a7c" stroke-width="0.65" stroke-opacity="0.95"/>
<rect x="430.29" y="460.6" width="3.9" height="5.9" fill="#f90f4d"/>
<rect x="435.24" y="461.0" width="3.9" height="5.5" fill="#f90f4d"/>
<rect x="440.19" y="460.6" width="3.9" height="5.9" fill="#f90f4d"/>
<rect x="445.54" y="463.4" width="3.1" height="3.1" fill="#effaf4" stroke="#559a7c" stroke-width="0.65" stroke-opacity="0.95"/>
<rect x="450.09" y="462.6" width="3.9" height="3.9" fill="#f90f4d"/>
<rect x="455.04" y="461.6" width="3.9" height="4.9" fill="#f90f4d"/>
<rect x="460.39" y="462.4" width="3.1" height="4.1" fill="#effaf4" stroke="#559a7c" stroke-width="0.65" stroke-opacity="0.95"/>
<rect x="465.34" y="462.0" width="3.1" height="4.5" fill="#effaf4" stroke="#559a7c" stroke-width="0.65" stroke-opacity="0.95"/>
<rect x="470.29" y="456.5" width="3.1" height="10.0" fill="#effaf4" stroke="#559a7c" stroke-width="0.65" stroke-opacity="0.95"/>
<rect x="474.85" y="461.0" width="3.9" height="5.5" fill="#f90f4d"/>
<rect x="480.20" y="459.9" width="3.1" height="6.6" fill="#effaf4" stroke="#559a7c" stroke-width="0.65" stroke-opacity="0.95"/>
<rect x="485.15" y="452.6" width="3.1" height="13.9" fill="#effaf4" stroke="#559a7c" stroke-width="0.65" stroke-opacity="0.95"/>
<rect x="490.10" y="458.9" width="3.1" height="7.6" fill="#effaf4" stroke="#559a7c" stroke-width="0.65" stroke-opacity="0.95"/>
<rect x="495.05" y="448.7" width="3.1" height="17.8" fill="#effaf4" stroke="#559a7c" stroke-width="0.65" stroke-opacity="0.95"/>
<rect x="500.00" y="450.7" width="3.1" height="15.8" fill="#effaf4" stroke="#559a7c" stroke-width="0.65" stroke-opacity="0.95"/>
<rect x="504.95" y="456.9" width="3.1" height="9.6" fill="#effaf4" stroke="#559a7c" stroke-width="0.65" stroke-opacity="0.95"/>
<rect x="509.50" y="459.7" width="3.9" height="6.8" fill="#f90f4d"/>
<rect x="514.85" y="460.9" width="3.1" height="5.6" fill="#effaf4" stroke="#559a7c" stroke-width="0.65" stroke-opacity="0.95"/>
<rect x="519.40" y="462.0" width="3.9" height="4.5" fill="#f90f4d"/>
<rect x="524.36" y="463.0" width="3.9" height="3.5" fill="#f90f4d"/>
<rect x="529.31" y="462.0" width="3.9" height="4.5" fill="#f90f4d"/>
<rect x="534.66" y="463.0" width="3.1" height="3.5" fill="#effaf4" stroke="#559a7c" stroke-width="0.65" stroke-opacity="0.95"/>
<rect x="539.61" y="458.9" width="3.1" height="7.6" fill="#effaf4" stroke="#559a7c" stroke-width="0.65" stroke-opacity="0.95"/>
<rect x="544.16" y="460.5" width="3.9" height="6.0" fill="#f90f4d"/>
<rect x="549.51" y="463.8" width="3.1" height="2.7" fill="#effaf4" stroke="#559a7c" stroke-width="0.65" stroke-opacity="0.95"/>
<rect x="554.46" y="458.9" width="3.1" height="7.6" fill="#effaf4" stroke="#559a7c" stroke-width="0.65" stroke-opacity="0.95"/>
<rect x="559.01" y="458.1" width="3.9" height="8.4" fill="#f90f4d"/>
<rect x="564.36" y="460.5" width="3.1" height="6.0" fill="#effaf4" stroke="#559a7c" stroke-width="0.65" stroke-opacity="0.95"/>
<rect x="569.31" y="460.9" width="3.1" height="5.6" fill="#effaf4" stroke="#559a7c" stroke-width="0.65" stroke-opacity="0.95"/>
<rect x="573.87" y="457.5" width="3.9" height="9.0" fill="#f90f4d"/>
<rect x="579.22" y="459.9" width="3.1" height="6.6" fill="#effaf4" stroke="#559a7c" stroke-width="0.65" stroke-opacity="0.95"/>
<rect x="584.17" y="455.0" width="3.1" height="11.5" fill="#effaf4" stroke="#559a7c" stroke-width="0.65" stroke-opacity="0.95"/>
<rect x="589.12" y="456.5" width="3.1" height="10.0" fill="#effaf4" stroke="#559a7c" stroke-width="0.65" stroke-opacity="0.95"/>
<rect x="593.67" y="460.1" width="3.9" height="6.4" fill="#f90f4d"/>
<rect x="598.62" y="462.0" width="3.9" height="4.5" fill="#f90f4d"/>
<rect x="603.57" y="459.1" width="3.9" height="7.4" fill="#f90f4d"/>
<rect x="608.92" y="462.4" width="3.1" height="4.1" fill="#effaf4" stroke="#559a7c" stroke-width="0.65" stroke-opacity="0.95"/>
<rect x="613.47" y="462.6" width="3.9" height="3.9" fill="#f90f4d"/>
<rect x="618.82" y="463.8" width="3.1" height="2.7" fill="#effaf4" stroke="#559a7c" stroke-width="0.65" stroke-opacity="0.95"/>
<rect x="623.38" y="464.0" width="3.9" height="2.5" fill="#f90f4d"/>
<rect x="628.33" y="462.0" width="3.9" height="4.5" fill="#f90f4d"/>
<rect x="633.68" y="463.4" width="3.1" height="3.1" fill="#effaf4" stroke="#559a7c" stroke-width="0.65" stroke-opacity="0.95"/>
<rect x="638.63" y="463.8" width="3.1" height="2.7" fill="#effaf4" stroke="#559a7c" stroke-width="0.65" stroke-opacity="0.95"/>
<rect x="643.18" y="462.0" width="3.9" height="4.5" fill="#f90f4d"/>
<rect x="648.53" y="463.8" width="3.1" height="2.7" fill="#effaf4" stroke="#559a7c" stroke-width="0.65" stroke-opacity="0.95"/>
<rect x="653.48" y="453.2" width="3.1" height="13.3" fill="#effaf4" stroke="#559a7c" stroke-width="0.65" stroke-opacity="0.95"/>
<rect x="658.03" y="461.0" width="3.9" height="5.5" fill="#f90f4d"/>
<rect x="663.38" y="459.9" width="3.1" height="6.6" fill="#effaf4" stroke="#559a7c" stroke-width="0.65" stroke-opacity="0.95"/>
<rect x="668.33" y="462.4" width="3.1" height="4.1" fill="#effaf4" stroke="#559a7c" stroke-width="0.65" stroke-opacity="0.95"/>
<rect x="672.89" y="461.6" width="3.9" height="4.9" fill="#f90f4d"/>
<rect x="677.84" y="455.2" width="3.9" height="11.3" fill="#f90f4d"/>
<rect x="682.79" y="460.5" width="3.9" height="6.0" fill="#f90f4d"/>
<rect x="687.74" y="463.0" width="3.9" height="3.5" fill="#f90f4d"/>
<rect x="692.69" y="463.4" width="3.9" height="3.1" fill="#f90f4d"/>
<rect x="698.04" y="462.0" width="3.1" height="4.5" fill="#effaf4" stroke="#559a7c" stroke-width="0.65" stroke-opacity="0.95"/>
<rect x="702.59" y="461.4" width="3.9" height="5.1" fill="#f90f4d"/>
<rect x="707.94" y="463.8" width="3.1" height="2.7" fill="#effaf4" stroke="#559a7c" stroke-width="0.65" stroke-opacity="0.95"/>
<rect x="712.49" y="463.0" width="3.9" height="3.5" fill="#f90f4d"/>
<rect x="717.44" y="462.4" width="3.9" height="4.1" fill="#f90f4d"/>
<rect x="722.40" y="451.9" width="3.9" height="14.6" fill="#f90f4d"/>
<rect x="727.75" y="460.5" width="3.1" height="6.0" fill="#effaf4" stroke="#559a7c" stroke-width="0.65" stroke-opacity="0.95"/>
<rect x="732.30" y="461.4" width="3.9" height="5.1" fill="#f90f4d"/>
<rect x="737.25" y="462.5" width="3.9" height="4.0" fill="#f90f4d"/>
<rect x="742.60" y="457.9" width="3.1" height="8.6" fill="#effaf4" stroke="#559a7c" stroke-width="0.65" stroke-opacity="0.95"/>
<rect x="747.15" y="459.1" width="3.9" height="7.4" fill="#f90f4d"/>
<rect x="752.10" y="461.4" width="3.9" height="5.1" fill="#f90f4d"/>
<rect x="757.05" y="462.0" width="3.9" height="4.5" fill="#f90f4d"/>
<rect x="762.00" y="461.0" width="3.9" height="5.5" fill="#f90f4d"/>
<rect x="766.95" y="454.6" width="3.9" height="11.9" fill="#f90f4d"/>
<rect x="772.31" y="453.6" width="3.1" height="12.9" fill="#effaf4" stroke="#559a7c" stroke-width="0.65" stroke-opacity="0.95"/>
<rect x="776.86" y="445.8" width="3.9" height="20.7" fill="#f90f4d"/>
<rect x="781.81" y="444.8" width="3.9" height="21.7" fill="#f90f4d"/>
<rect x="787.16" y="456.9" width="3.1" height="9.6" fill="#effaf4" stroke="#559a7c" stroke-width="0.65" stroke-opacity="0.95"/>
<rect x="792.11" y="458.9" width="3.1" height="7.6" fill="#effaf4" stroke="#559a7c" stroke-width="0.65" stroke-opacity="0.95"/>
<rect x="797.06" y="459.9" width="3.1" height="6.6" fill="#effaf4" stroke="#559a7c" stroke-width="0.65" stroke-opacity="0.95"/>
<rect x="801.61" y="459.1" width="3.9" height="7.4" fill="#f90f4d"/>
<rect x="806.96" y="459.5" width="3.1" height="7.0" fill="#effaf4" stroke="#559a7c" stroke-width="0.65" stroke-opacity="0.95"/>
<rect x="811.51" y="458.1" width="3.9" height="8.4" fill="#f90f4d"/>
<rect x="816.86" y="458.5" width="3.1" height="8.0" fill="#effaf4" stroke="#559a7c" stroke-width="0.65" stroke-opacity="0.95"/>
<rect x="821.42" y="456.1" width="3.9" height="10.4" fill="#f90f4d"/>
<rect x="826.77" y="459.5" width="3.1" height="7.0" fill="#effaf4" stroke="#559a7c" stroke-width="0.65" stroke-opacity="0.95"/>
<rect x="831.72" y="459.9" width="3.1" height="6.6" fill="#effaf4" stroke="#559a7c" stroke-width="0.65" stroke-opacity="0.95"/>
<rect x="836.27" y="458.1" width="3.9" height="8.4" fill="#f90f4d"/>
<rect x="841.62" y="458.5" width="3.1" height="8.0" fill="#effaf4" stroke="#559a7c" stroke-width="0.65" stroke-opacity="0.95"/>
<rect x="846.17" y="458.5" width="3.9" height="8.0" fill="#f90f4d"/>
<rect x="851.12" y="455.2" width="3.9" height="11.3" fill="#f90f4d"/>
<rect x="856.07" y="453.2" width="3.9" height="13.3" fill="#f90f4d"/>
<rect x="861.42" y="461.4" width="3.1" height="5.1" fill="#effaf4" stroke="#559a7c" stroke-width="0.65" stroke-opacity="0.95"/>
<rect x="866.37" y="460.9" width="3.1" height="5.6" fill="#effaf4" stroke="#559a7c" stroke-width="0.65" stroke-opacity="0.95"/>
<rect x="871.33" y="459.5" width="3.1" height="7.0" fill="#effaf4" stroke="#559a7c" stroke-width="0.65" stroke-opacity="0.95"/>
<rect x="875.88" y="458.5" width="3.9" height="8.0" fill="#f90f4d"/>
<rect x="880.83" y="454.2" width="3.9" height="12.3" fill="#f90f4d"/>
<rect x="886.18" y="458.5" width="3.1" height="8.0" fill="#effaf4" stroke="#559a7c" stroke-width="0.65" stroke-opacity="0.95"/>
<rect x="890.73" y="461.0" width="3.9" height="5.5" fill="#f90f4d"/>
<rect x="896.08" y="462.4" width="3.1" height="4.1" fill="#effaf4" stroke="#559a7c" stroke-width="0.65" stroke-opacity="0.95"/>
<rect x="901.03" y="463.4" width="3.1" height="3.1" fill="#effaf4" stroke="#559a7c" stroke-width="0.65" stroke-opacity="0.95"/>
<rect x="905.98" y="461.4" width="3.1" height="5.1" fill="#effaf4" stroke="#559a7c" stroke-width="0.65" stroke-opacity="0.95"/>
<rect x="910.53" y="460.5" width="3.9" height="6.0" fill="#f90f4d"/>
<rect x="915.88" y="462.4" width="3.1" height="4.1" fill="#effaf4" stroke="#559a7c" stroke-width="0.65" stroke-opacity="0.95"/>
<rect x="920.44" y="463.0" width="3.9" height="3.5" fill="#f90f4d"/>
<rect x="925.39" y="464.9" width="3.9" height="1.6" fill="#f90f4d"/>
<path d="M0.0,429.6 C0.8,429.1 2.2,427.3 4.7,426.5 C7.2,425.7 11.1,424.5 15.0,425.0 C18.9,425.5 25.2,427.3 28.2,429.6 C31.2,431.9 30.8,436.4 32.9,439.0 C35.0,441.6 35.8,443.7 40.7,445.3 C45.7,446.9 57.4,447.3 62.6,448.4 C67.8,449.4 68.6,450.4 72.0,451.6 C75.4,452.9 78.0,455.1 82.9,455.9 C87.9,456.7 94.7,456.2 101.7,456.6 C108.8,457.0 117.2,458.0 125.2,458.1 C133.2,458.2 140.9,457.4 150.0,457.2 C159.1,457.0 170.3,456.9 180.0,457.2 C189.7,457.5 200.0,458.6 208.0,459.2 C216.0,459.8 221.5,460.4 228.0,460.5 C234.5,460.6 240.5,460.0 247.0,459.8 C253.5,459.6 257.2,459.3 267.0,459.2 C276.8,459.1 293.0,458.9 306.0,459.2 C319.0,459.5 328.8,460.8 345.0,461.1 C361.2,461.4 383.5,460.9 403.0,460.8 C422.5,460.8 448.9,461.0 462.0,460.8 C475.1,460.6 474.5,460.2 481.7,459.8 C488.9,459.4 495.3,458.8 505.0,458.6 C514.7,458.4 527.7,458.4 540.0,458.6 C552.3,458.8 566.0,459.5 579.0,459.8 C592.0,460.1 605.0,460.0 618.0,460.2 C631.0,460.4 644.0,460.9 657.0,461.1 C670.0,461.3 683.0,461.4 696.0,461.5 C709.0,461.6 723.7,461.6 735.0,461.5 C746.3,461.4 755.9,461.7 764.0,461.1 C772.1,460.6 778.9,458.9 783.8,458.2 C788.7,457.5 788.7,457.0 793.6,456.8 C798.5,456.6 806.5,457.3 813.0,457.2 C819.5,457.1 826.2,456.4 832.7,456.3 C839.2,456.2 845.5,456.5 852.0,456.8 C858.5,457.1 865.2,458.0 871.7,458.2 C878.2,458.4 884.5,457.6 891.0,457.8 C897.5,458.0 904.7,458.8 910.8,459.2 C916.9,459.6 924.6,460.0 927.4,460.2" fill="none" stroke="#555" stroke-width="0.8"/>
<rect x="5" y="424" width="133" height="9" fill="#f7f7f7" fill-opacity="0.85"/>
<g fill="#5a5a5a" stroke="#5a5a5a" stroke-width="0.22" font-weight="normal">
<text x="6.00" y="430.4" font-size="7.4" textLength="22.98" lengthAdjust="spacingAndGlyphs">Volume</text>
<text x="32.81" y="430.4" font-size="7.4" textLength="22.98" lengthAdjust="spacingAndGlyphs">(base,</text>
<text x="55.79" y="430.4" font-size="6.88" style="font-family:'Liberation Sans',sans-serif" textLength="7.66" lengthAdjust="spacingAndGlyphs">15</text>
<text x="63.45" y="430.4" font-size="7.4" textLength="3.83" lengthAdjust="spacingAndGlyphs">)</text>
</g>
<g fill="#f22f65" stroke="#f22f65" stroke-width="0.22" font-weight="normal">
<text x="71.50" y="430.4" font-size="6.88" style="font-family:'Liberation Sans',sans-serif" textLength="7.50" lengthAdjust="spacingAndGlyphs">10</text>
<text x="79.00" y="430.4" font-size="7.4" textLength="3.75" lengthAdjust="spacingAndGlyphs">.</text>
<text x="82.75" y="430.4" font-size="6.88" style="font-family:'Liberation Sans',sans-serif" textLength="7.50" lengthAdjust="spacingAndGlyphs">15</text>
<text x="90.25" y="430.4" font-size="7.4" textLength="3.75" lengthAdjust="spacingAndGlyphs">M</text>
</g>
<g fill="#5a5a5a" stroke="#5a5a5a" stroke-width="0.22" font-weight="normal">
<text x="98.70" y="430.4" font-size="6.88" style="font-family:'Liberation Sans',sans-serif" textLength="7.50" lengthAdjust="spacingAndGlyphs">14</text>
<text x="106.20" y="430.4" font-size="7.4" textLength="3.75" lengthAdjust="spacingAndGlyphs">.</text>
<text x="109.95" y="430.4" font-size="6.88" style="font-family:'Liberation Sans',sans-serif" textLength="7.50" lengthAdjust="spacingAndGlyphs">69</text>
<text x="117.45" y="430.4" font-size="7.4" textLength="3.75" lengthAdjust="spacingAndGlyphs">M</text>
<text x="124.95" y="430.4" font-size="7.4" textLength="11.25" lengthAdjust="spacingAndGlyphs">BAT</text>
</g>
<line x1="974.5" y1="427.1" x2="977.5" y2="427.1" stroke="#666" stroke-width="0.9"/>
<g fill="#5a5a5a" stroke="#5a5a5a" stroke-width="0.22" font-weight="normal">
<text x="982.50" y="429.7" font-size="6.88" style="font-family:'Liberation Sans',sans-serif" textLength="11.25" lengthAdjust="spacingAndGlyphs">100</text>
<text x="993.75" y="429.7" font-size="7.4" textLength="3.75" lengthAdjust="spacingAndGlyphs">.</text>
<text x="997.50" y="429.7" font-size="6.88" style="font-family:'Liberation Sans',sans-serif" textLength="3.75" lengthAdjust="spacingAndGlyphs">0</text>
<text x="1001.25" y="429.7" font-size="7.4" textLength="3.75" lengthAdjust="spacingAndGlyphs">M</text>
</g>
<line x1="974.5" y1="446.9" x2="977.5" y2="446.9" stroke="#666" stroke-width="0.9"/>
<g fill="#5a5a5a" stroke="#5a5a5a" stroke-width="0.22" font-weight="normal">
<text x="982.50" y="449.5" font-size="6.88" style="font-family:'Liberation Sans',sans-serif" textLength="7.50" lengthAdjust="spacingAndGlyphs">50</text>
<text x="990.00" y="449.5" font-size="7.4" textLength="3.75" lengthAdjust="spacingAndGlyphs">.</text>
<text x="993.75" y="449.5" font-size="6.88" style="font-family:'Liberation Sans',sans-serif" textLength="7.50" lengthAdjust="spacingAndGlyphs">00</text>
<text x="1001.25" y="449.5" font-size="7.4" textLength="3.75" lengthAdjust="spacingAndGlyphs">M</text>
</g>
<line x1="974.5" y1="460" x2="977.5" y2="460" stroke="#444" stroke-width="0.9"/>
<line x1="974.5" y1="465.7" x2="977.5" y2="465.7" stroke="#ea3c70" stroke-width="1.3"/>
<g fill="#5a5a5a" stroke="#5a5a5a" stroke-width="0.22" font-weight="normal">
<text x="982.50" y="468.2" font-size="6.88" style="font-family:'Liberation Sans',sans-serif" textLength="3.75" lengthAdjust="spacingAndGlyphs">2</text>
<text x="986.25" y="468.2" font-size="7.4" textLength="3.75" lengthAdjust="spacingAndGlyphs">.</text>
<text x="990.00" y="468.2" font-size="6.88" style="font-family:'Liberation Sans',sans-serif" textLength="11.25" lengthAdjust="spacingAndGlyphs">077</text>
<text x="1001.25" y="468.2" font-size="7.4" textLength="3.75" lengthAdjust="spacingAndGlyphs">M</text>
</g>
<line x1="0" y1="478" x2="973" y2="478" stroke="#e2e2e2" stroke-width="1"/>
<line x1="0" y1="489" x2="973" y2="489" stroke="#e2e2e2" stroke-width="1"/>
<path d="M0.0,484.1 C1.7,483.9 6.7,482.7 10.0,482.8 C13.3,482.9 16.7,484.4 20.0,484.8 C23.3,485.2 27.3,485.6 30.0,485.5 C32.7,485.4 34.3,484.4 36.0,484.4 C37.7,484.4 37.7,485.5 40.0,485.6 C42.3,485.7 46.7,485.0 50.0,484.8 C53.3,484.6 56.7,484.2 60.0,484.2 C63.3,484.2 66.7,484.7 70.0,484.6 C73.3,484.5 76.7,484.2 80.0,483.7 C83.3,483.2 86.7,482.0 90.0,481.6 C93.3,481.2 96.7,481.3 100.0,481.2 C103.3,481.1 107.3,480.4 110.0,480.8 C112.7,481.2 114.3,482.9 116.0,483.5 C117.7,484.1 117.7,484.5 120.0,484.5 C122.3,484.5 126.7,483.9 130.0,483.5 C133.3,483.1 136.7,482.4 140.0,482.2 C143.3,482.0 146.7,482.0 150.0,482.4 C153.3,482.8 156.7,483.9 160.0,484.5 C163.3,485.1 166.7,486.0 170.0,486.3 C173.3,486.6 176.7,486.6 180.0,486.3 C183.3,486.0 186.7,484.7 190.0,484.5 C193.3,484.3 196.7,485.1 200.0,485.2 C203.3,485.3 206.7,484.9 210.0,485.0 C213.3,485.1 216.7,485.6 220.0,486.0 C223.3,486.4 226.8,487.0 230.0,487.6 C233.2,488.2 235.7,489.7 239.0,489.8 C242.3,489.9 246.5,488.9 250.0,488.4 C253.5,487.9 256.7,487.2 260.0,486.8 C263.3,486.4 265.8,486.1 270.0,486.0 C274.2,485.9 280.5,485.9 285.0,485.9 C289.5,485.9 294.0,486.2 297.0,485.9 C300.0,485.6 300.8,484.4 303.0,483.9 C305.2,483.4 307.5,483.4 310.0,483.1 C312.5,482.8 315.5,482.3 318.0,482.3 C320.5,482.3 322.8,482.9 325.0,483.1 C327.2,483.3 328.8,483.0 331.0,483.5 C333.2,484.0 334.8,485.5 338.0,485.9 C341.2,486.3 346.8,486.1 350.0,485.9 C353.2,485.7 355.0,484.7 357.0,484.5 C359.0,484.3 359.7,484.4 362.0,484.9 C364.3,485.3 368.5,487.0 371.0,487.2 C373.5,487.4 374.3,486.1 377.0,486.3 C379.7,486.5 384.3,488.5 387.0,488.6 C389.7,488.8 390.2,487.4 393.0,487.2 C395.8,486.9 400.5,487.4 403.6,487.1 C406.7,486.8 409.1,485.5 411.4,485.5 C413.7,485.5 415.4,487.4 417.3,487.1 C419.2,486.9 420.5,484.4 423.1,484.0 C425.7,483.6 429.0,484.2 432.9,484.6 C436.8,485.0 442.4,486.1 446.6,486.5 C450.8,486.9 454.4,487.4 458.3,487.1 C462.2,486.8 466.4,484.8 470.0,484.6 C473.6,484.4 476.9,486.0 479.8,485.9 C482.7,485.8 484.4,484.9 487.6,484.0 C490.9,483.1 496.1,481.5 499.3,480.7 C502.6,479.9 503.5,479.2 507.1,479.1 C510.7,479.0 516.9,479.7 520.8,480.1 C524.7,480.5 527.3,481.4 530.5,481.3 C533.7,481.2 537.1,479.8 540.0,479.7 C542.9,479.6 544.9,480.8 547.8,480.7 C550.7,480.6 553.0,479.2 557.6,479.3 C562.2,479.4 571.0,481.2 575.2,481.3 C579.4,481.4 580.2,480.1 583.0,479.7 C585.8,479.3 589.2,478.2 591.8,478.7 C594.4,479.2 596.2,481.4 598.6,482.6 C601.0,483.8 604.1,485.6 606.4,485.9 C608.7,486.2 610.3,484.6 612.3,484.6 C614.2,484.6 616.5,485.9 618.1,485.9 C619.7,485.9 619.7,484.5 622.0,484.6 C624.3,484.7 628.5,486.4 631.8,486.5 C635.1,486.6 638.7,485.4 641.6,485.2 C644.5,485.0 647.1,485.5 649.4,485.2 C651.7,484.9 653.4,483.6 655.2,483.6 C657.0,483.6 658.5,485.3 660.1,485.2 C661.7,485.1 662.2,483.5 665.0,483.2 C667.8,482.9 672.8,483.4 676.7,483.6 C680.6,483.8 685.1,484.3 688.4,484.6 C691.7,484.9 693.7,484.7 696.3,485.2 C698.9,485.7 701.5,487.3 704.1,487.5 C706.7,487.7 708.6,486.4 711.9,486.5 C715.1,486.6 720.7,488.2 723.6,488.4 C726.5,488.6 727.6,487.6 729.5,487.5 C731.4,487.4 732.6,488.0 735.0,487.5 C737.4,487.0 740.9,484.8 743.8,484.6 C746.7,484.4 749.2,486.0 752.6,486.5 C756.0,487.0 761.2,487.1 764.3,487.5 C767.4,487.9 769.5,488.9 771.1,489.1 C772.7,489.3 772.2,488.4 774.0,488.5 C775.8,488.6 778.6,489.9 781.9,489.8 C785.2,489.7 788.4,488.3 793.6,487.9 C798.8,487.4 806.6,487.2 813.1,487.1 C819.6,487.0 827.5,487.2 832.7,487.1 C837.9,487.0 840.5,486.4 844.4,486.5 C848.3,486.6 852.2,487.8 856.1,487.9 C860.0,488.0 864.5,487.5 867.8,487.1 C871.0,486.7 873.0,485.7 875.6,485.5 C878.2,485.3 881.3,486.0 883.4,485.9 C885.5,485.8 886.3,484.6 888.3,484.6 C890.3,484.6 892.1,485.9 895.2,485.9 C898.3,485.9 901.5,484.8 906.9,484.6 C912.3,484.4 924.0,484.6 927.4,484.6" fill="none" stroke="#6ec3de" stroke-width="0.9"/>
<clipPath id="c30"><rect x="0" y="488.7" width="973" height="8"/></clipPath>
<path d="M0.0,484.1 C1.7,483.9 6.7,482.7 10.0,482.8 C13.3,482.9 16.7,484.4 20.0,484.8 C23.3,485.2 27.3,485.6 30.0,485.5 C32.7,485.4 34.3,484.4 36.0,484.4 C37.7,484.4 37.7,485.5 40.0,485.6 C42.3,485.7 46.7,485.0 50.0,484.8 C53.3,484.6 56.7,484.2 60.0,484.2 C63.3,484.2 66.7,484.7 70.0,484.6 C73.3,484.5 76.7,484.2 80.0,483.7 C83.3,483.2 86.7,482.0 90.0,481.6 C93.3,481.2 96.7,481.3 100.0,481.2 C103.3,481.1 107.3,480.4 110.0,480.8 C112.7,481.2 114.3,482.9 116.0,483.5 C117.7,484.1 117.7,484.5 120.0,484.5 C122.3,484.5 126.7,483.9 130.0,483.5 C133.3,483.1 136.7,482.4 140.0,482.2 C143.3,482.0 146.7,482.0 150.0,482.4 C153.3,482.8 156.7,483.9 160.0,484.5 C163.3,485.1 166.7,486.0 170.0,486.3 C173.3,486.6 176.7,486.6 180.0,486.3 C183.3,486.0 186.7,484.7 190.0,484.5 C193.3,484.3 196.7,485.1 200.0,485.2 C203.3,485.3 206.7,484.9 210.0,485.0 C213.3,485.1 216.7,485.6 220.0,486.0 C223.3,486.4 226.8,487.0 230.0,487.6 C233.2,488.2 235.7,489.7 239.0,489.8 C242.3,489.9 246.5,488.9 250.0,488.4 C253.5,487.9 256.7,487.2 260.0,486.8 C263.3,486.4 265.8,486.1 270.0,486.0 C274.2,485.9 280.5,485.9 285.0,485.9 C289.5,485.9 294.0,486.2 297.0,485.9 C300.0,485.6 300.8,484.4 303.0,483.9 C305.2,483.4 307.5,483.4 310.0,483.1 C312.5,482.8 315.5,482.3 318.0,482.3 C320.5,482.3 322.8,482.9 325.0,483.1 C327.2,483.3 328.8,483.0 331.0,483.5 C333.2,484.0 334.8,485.5 338.0,485.9 C341.2,486.3 346.8,486.1 350.0,485.9 C353.2,485.7 355.0,484.7 357.0,484.5 C359.0,484.3 359.7,484.4 362.0,484.9 C364.3,485.3 368.5,487.0 371.0,487.2 C373.5,487.4 374.3,486.1 377.0,486.3 C379.7,486.5 384.3,488.5 387.0,488.6 C389.7,488.8 390.2,487.4 393.0,487.2 C395.8,486.9 400.5,487.4 403.6,487.1 C406.7,486.8 409.1,485.5 411.4,485.5 C413.7,485.5 415.4,487.4 417.3,487.1 C419.2,486.9 420.5,484.4 423.1,484.0 C425.7,483.6 429.0,484.2 432.9,484.6 C436.8,485.0 442.4,486.1 446.6,486.5 C450.8,486.9 454.4,487.4 458.3,487.1 C462.2,486.8 466.4,484.8 470.0,484.6 C473.6,484.4 476.9,486.0 479.8,485.9 C482.7,485.8 484.4,484.9 487.6,484.0 C490.9,483.1 496.1,481.5 499.3,480.7 C502.6,479.9 503.5,479.2 507.1,479.1 C510.7,479.0 516.9,479.7 520.8,480.1 C524.7,480.5 527.3,481.4 530.5,481.3 C533.7,481.2 537.1,479.8 540.0,479.7 C542.9,479.6 544.9,480.8 547.8,480.7 C550.7,480.6 553.0,479.2 557.6,479.3 C562.2,479.4 571.0,481.2 575.2,481.3 C579.4,481.4 580.2,480.1 583.0,479.7 C585.8,479.3 589.2,478.2 591.8,478.7 C594.4,479.2 596.2,481.4 598.6,482.6 C601.0,483.8 604.1,485.6 606.4,485.9 C608.7,486.2 610.3,484.6 612.3,484.6 C614.2,484.6 616.5,485.9 618.1,485.9 C619.7,485.9 619.7,484.5 622.0,484.6 C624.3,484.7 628.5,486.4 631.8,486.5 C635.1,486.6 638.7,485.4 641.6,485.2 C644.5,485.0 647.1,485.5 649.4,485.2 C651.7,484.9 653.4,483.6 655.2,483.6 C657.0,483.6 658.5,485.3 660.1,485.2 C661.7,485.1 662.2,483.5 665.0,483.2 C667.8,482.9 672.8,483.4 676.7,483.6 C680.6,483.8 685.1,484.3 688.4,484.6 C691.7,484.9 693.7,484.7 696.3,485.2 C698.9,485.7 701.5,487.3 704.1,487.5 C706.7,487.7 708.6,486.4 711.9,486.5 C715.1,486.6 720.7,488.2 723.6,488.4 C726.5,488.6 727.6,487.6 729.5,487.5 C731.4,487.4 732.6,488.0 735.0,487.5 C737.4,487.0 740.9,484.8 743.8,484.6 C746.7,484.4 749.2,486.0 752.6,486.5 C756.0,487.0 761.2,487.1 764.3,487.5 C767.4,487.9 769.5,488.9 771.1,489.1 C772.7,489.3 772.2,488.4 774.0,488.5 C775.8,488.6 778.6,489.9 781.9,489.8 C785.2,489.7 788.4,488.3 793.6,487.9 C798.8,487.4 806.6,487.2 813.1,487.1 C819.6,487.0 827.5,487.2 832.7,487.1 C837.9,487.0 840.5,486.4 844.4,486.5 C848.3,486.6 852.2,487.8 856.1,487.9 C860.0,488.0 864.5,487.5 867.8,487.1 C871.0,486.7 873.0,485.7 875.6,485.5 C878.2,485.3 881.3,486.0 883.4,485.9 C885.5,485.8 886.3,484.6 888.3,484.6 C890.3,484.6 892.1,485.9 895.2,485.9 C898.3,485.9 901.5,484.8 906.9,484.6 C912.3,484.4 924.0,484.6 927.4,484.6" fill="none" stroke="#555" stroke-width="0.9" clip-path="url(#c30)"/>
<rect x="5" y="474.6" width="32" height="8.8" fill="#f7f7f7" fill-opacity="0.9"/><rect x="40.5" y="474.6" width="21" height="8.8" fill="#f7f7f7" fill-opacity="0.9"/>
<g fill="#5a5a5a" stroke="#5a5a5a" stroke-width="0.22" font-weight="normal">
<text x="6.00" y="481.2" font-size="7.4" textLength="11.25" lengthAdjust="spacingAndGlyphs">RSI</text>
<text x="21.00" y="481.2" font-size="7.4" textLength="3.75" lengthAdjust="spacingAndGlyphs">(</text>
<text x="24.75" y="481.2" font-size="6.88" style="font-family:'Liberation Sans',sans-serif" textLength="7.50" lengthAdjust="spacingAndGlyphs">14</text>
<text x="32.25" y="481.2" font-size="7.4" textLength="3.75" lengthAdjust="spacingAndGlyphs">)</text>
</g>
<g fill="#6ec3de" stroke="#6ec3de" stroke-width="0.22" font-weight="normal">
<text x="41.50" y="481.2" font-size="6.88" style="font-family:'Liberation Sans',sans-serif" textLength="7.60" lengthAdjust="spacingAndGlyphs">37</text>
<text x="49.10" y="481.2" font-size="7.4" textLength="3.80" lengthAdjust="spacingAndGlyphs">.</text>
<text x="52.90" y="481.2" font-size="6.88" style="font-family:'Liberation Sans',sans-serif" textLength="7.60" lengthAdjust="spacingAndGlyphs">02</text>
</g>
<line x1="974.5" y1="470.6" x2="977.5" y2="470.6" stroke="#555" stroke-width="0.9"/>
<line x1="974.5" y1="477.9" x2="977.5" y2="477.9" stroke="#666" stroke-width="0.9"/>
<line x1="974.5" y1="488.9" x2="977.5" y2="488.9" stroke="#666" stroke-width="0.9"/>
<line x1="974.5" y1="485" x2="977.5" y2="485" stroke="#6ec3de" stroke-width="1.3"/>
<g fill="#5a5a5a" stroke="#5a5a5a" stroke-width="0.22" font-weight="normal">
<text x="982.50" y="487.6" font-size="6.88" style="font-family:'Liberation Sans',sans-serif" textLength="7.50" lengthAdjust="spacingAndGlyphs">44</text>
<text x="990.00" y="487.6" font-size="7.4" textLength="3.75" lengthAdjust="spacingAndGlyphs">.</text>
<text x="993.75" y="487.6" font-size="6.88" style="font-family:'Liberation Sans',sans-serif" textLength="7.50" lengthAdjust="spacingAndGlyphs">34</text>
</g>
<clipPath id="c0"><rect x="970" y="480" width="54" height="17"/></clipPath>
<g clip-path="url(#c0)">
<line x1="974.5" y1="496.2" x2="977.5" y2="496.2" stroke="#666" stroke-width="0.9"/>
<g fill="#5a5a5a" stroke="#5a5a5a" stroke-width="0.22" font-weight="normal">
<text x="982.50" y="498.9" font-size="6.88" style="font-family:'Liberation Sans',sans-serif" textLength="3.75" lengthAdjust="spacingAndGlyphs">0</text>
<text x="986.25" y="498.9" font-size="7.4" textLength="3.75" lengthAdjust="spacingAndGlyphs">.</text>
<text x="990.00" y="498.9" font-size="6.88" style="font-family:'Liberation Sans',sans-serif" textLength="7.50" lengthAdjust="spacingAndGlyphs">00</text>
</g>
</g>
<rect x="1020.4" y="424.5" width="7" height="6.4" fill="#fafafa" stroke="#999" stroke-width="0.7"/>
<path d="M1022.3,426.2 l3,3 m0,-3 l-3,3" stroke="#777" stroke-width="0.6" fill="none"/>
<rect x="1020.4" y="474.90000000000003" width="7" height="6.4" fill="#fafafa" stroke="#999" stroke-width="0.7"/>
<path d="M1022.3,476.6 l3,3 m0,-3 l-3,3" stroke="#777" stroke-width="0.6" fill="none"/>
<rect x="0" y="497.5" width="1024" height="20.5" fill="#f7f7f7"/>
<line x1="0" y1="497" x2="1024" y2="497" stroke="#d4d4d4" stroke-width="1"/>
<line x1="0" y1="515.8" x2="1024" y2="515.8" stroke="#dedede" stroke-width="1"/>
<line x1="0" y1="498.3" x2="1024" y2="498.3" stroke="#ececec" stroke-width="0.8"/>
<line x1="56.0" y1="497.5" x2="56.0" y2="499.5" stroke="#bbb" stroke-width="0.8"/>
<g fill="#555" stroke="#555" stroke-width="0.22" font-weight="normal">
<text x="52.18" y="510.2" font-size="6.88" style="font-family:'Liberation Sans',sans-serif" textLength="7.56" lengthAdjust="spacingAndGlyphs">16</text>
</g>
<line x1="135.2" y1="497.5" x2="135.2" y2="499.5" stroke="#bbb" stroke-width="0.8"/>
<g fill="#555" stroke="#555" stroke-width="0.22" font-weight="bold">
<text x="127.62" y="510.2" font-size="6.88" style="font-family:'Liberation Sans',sans-serif" textLength="15.12" lengthAdjust="spacingAndGlyphs">2022</text>
</g>
<line x1="209.4" y1="497.5" x2="209.4" y2="499.5" stroke="#bbb" stroke-width="0.8"/>
<g fill="#555" stroke="#555" stroke-width="0.22" font-weight="normal">
<text x="205.66" y="510.2" font-size="6.88" style="font-family:'Liberation Sans',sans-serif" textLength="7.56" lengthAdjust="spacingAndGlyphs">16</text>
</g>
<line x1="288.7" y1="497.5" x2="288.7" y2="499.5" stroke="#bbb" stroke-width="0.8"/>
<g fill="#555" stroke="#555" stroke-width="0.22" font-weight="bold">
<text x="282.99" y="510.2" font-size="7.4" textLength="11.34" lengthAdjust="spacingAndGlyphs">Feb</text>
</g>
<line x1="358.0" y1="497.5" x2="358.0" y2="499.5" stroke="#bbb" stroke-width="0.8"/>
<g fill="#555" stroke="#555" stroke-width="0.22" font-weight="normal">
<text x="354.19" y="510.2" font-size="6.88" style="font-family:'Liberation Sans',sans-serif" textLength="7.56" lengthAdjust="spacingAndGlyphs">15</text>
</g>
<line x1="427.3" y1="497.5" x2="427.3" y2="499.5" stroke="#bbb" stroke-width="0.8"/>
<g fill="#555" stroke="#555" stroke-width="0.22" font-weight="bold">
<text x="421.62" y="510.2" font-size="7.4" textLength="11.34" lengthAdjust="spacingAndGlyphs">Mar</text>
</g>
<line x1="501.6" y1="497.5" x2="501.6" y2="499.5" stroke="#bbb" stroke-width="0.8"/>
<g fill="#555" stroke="#555" stroke-width="0.22" font-weight="normal">
<text x="497.77" y="510.2" font-size="6.88" style="font-family:'Liberation Sans',sans-serif" textLength="7.56" lengthAdjust="spacingAndGlyphs">16</text>
</g>
<line x1="580.8" y1="497.5" x2="580.8" y2="499.5" stroke="#bbb" stroke-width="0.8"/>
<g fill="#555" stroke="#555" stroke-width="0.22" font-weight="bold">
<text x="575.10" y="510.2" font-size="7.4" textLength="11.34" lengthAdjust="spacingAndGlyphs">Apr</text>
</g>
<line x1="655.0" y1="497.5" x2="655.0" y2="499.5" stroke="#bbb" stroke-width="0.8"/>
<g fill="#555" stroke="#555" stroke-width="0.22" font-weight="normal">
<text x="651.25" y="510.2" font-size="6.88" style="font-family:'Liberation Sans',sans-serif" textLength="7.56" lengthAdjust="spacingAndGlyphs">16</text>
</g>
<line x1="729.3" y1="497.5" x2="729.3" y2="499.5" stroke="#bbb" stroke-width="0.8"/>
<g fill="#555" stroke="#555" stroke-width="0.22" font-weight="bold">
<text x="723.63" y="510.2" font-size="7.4" textLength="11.34" lengthAdjust="spacingAndGlyphs">May</text>
</g>
<line x1="803.6" y1="497.5" x2="803.6" y2="499.5" stroke="#bbb" stroke-width="0.8"/>
<g fill="#555" stroke="#555" stroke-width="0.22" font-weight="normal">
<text x="799.78" y="510.2" font-size="6.88" style="font-family:'Liberation Sans',sans-serif" textLength="7.56" lengthAdjust="spacingAndGlyphs">16</text>
</g>
<line x1="882.8" y1="497.5" x2="882.8" y2="499.5" stroke="#bbb" stroke-width="0.8"/>
<g fill="#555" stroke="#555" stroke-width="0.22" font-weight="bold">
<text x="877.11" y="510.2" font-size="7.4" textLength="11.34" lengthAdjust="spacingAndGlyphs">Jun</text>
</g>
<line x1="927.3" y1="497.5" x2="927.3" y2="499.5" stroke="#bbb" stroke-width="0.8"/>
<g fill="#555" stroke="#555" stroke-width="0.22" font-weight="normal">
<text x="912.22" y="510.2" font-size="6.88" style="font-family:'Liberation Sans',sans-serif" textLength="7.56" lengthAdjust="spacingAndGlyphs">19</text>
<text x="919.78" y="510.2" font-size="7.4" textLength="3.78" lengthAdjust="spacingAndGlyphs">:</text>
<text x="923.56" y="510.2" font-size="6.88" style="font-family:'Liberation Sans',sans-serif" textLength="7.56" lengthAdjust="spacingAndGlyphs">15</text>
<text x="931.12" y="510.2" font-size="7.4" textLength="3.78" lengthAdjust="spacingAndGlyphs">:</text>
<text x="934.90" y="510.2" font-size="6.88" style="font-family:'Liberation Sans',sans-serif" textLength="7.56" lengthAdjust="spacingAndGlyphs">23</text>
</g>
<line x1="966.9" y1="497.5" x2="966.9" y2="499.5" stroke="#bbb" stroke-width="0.8"/>
<g fill="#555" stroke="#555" stroke-width="0.22" font-weight="normal">
<text x="963.16" y="510.2" font-size="6.88" style="font-family:'Liberation Sans',sans-serif" textLength="7.56" lengthAdjust="spacingAndGlyphs">18</text>
</g>
<rect x="0" y="0" width="1024" height="19.5" fill="#fafafa"/>
<line x1="0" y1="19.5" x2="1024" y2="19.5" stroke="#dcdcdc" stroke-width="1"/>
<line x1="0" y1="0.5" x2="1024" y2="0.5" stroke="#e4e4e4" stroke-width="1"/>
<line x1="81.2" y1="0" x2="81.2" y2="19.5" stroke="#e3e3e3" stroke-width="1"/>
<line x1="109.5" y1="0" x2="109.5" y2="19.5" stroke="#e3e3e3" stroke-width="1"/>
<line x1="125" y1="0" x2="125" y2="19.5" stroke="#e3e3e3" stroke-width="1"/>
<line x1="196" y1="0" x2="196" y2="19.5" stroke="#e3e3e3" stroke-width="1"/>
<line x1="789.2" y1="0" x2="789.2" y2="19.5" stroke="#e3e3e3" stroke-width="1"/>
<line x1="869.8" y1="0" x2="869.8" y2="19.5" stroke="#e3e3e3" stroke-width="1"/>
<line x1="896.7" y1="0" x2="896.7" y2="19.5" stroke="#e3e3e3" stroke-width="1"/>
<line x1="923.3" y1="0" x2="923.3" y2="19.5" stroke="#e3e3e3" stroke-width="1"/>
<line x1="964.6" y1="0" x2="964.6" y2="19.5" stroke="#e3e3e3" stroke-width="1"/>
<line x1="985.4" y1="0" x2="985.4" y2="19.5" stroke="#e3e3e3" stroke-width="1"/>
<g fill="#555" stroke="#555" stroke-width="0.22" font-weight="normal">
<text x="6.00" y="12.2" font-size="7.4" textLength="26.34" lengthAdjust="spacingAndGlyphs">Binance</text>
<text x="36.10" y="12.2" font-size="7.4" textLength="30.10" lengthAdjust="spacingAndGlyphs">BAT/USDT</text>
</g>
<path d="M70.0,8.9 l1.8,1.8 l1.8,-1.8" fill="none" stroke="#444" stroke-width="1.1"/>
<g fill="#555" stroke="#555" stroke-width="0.22" font-weight="normal">
<text x="87.00" y="12.2" font-size="6.88" style="font-family:'Liberation Sans',sans-serif" textLength="3.60" lengthAdjust="spacingAndGlyphs">1</text>
<text x="90.60" y="12.2" font-size="7.4" textLength="3.60" lengthAdjust="spacingAndGlyphs">D</text>
</g>
<path d="M98.2,8.9 l1.8,1.8 l1.8,-1.8" fill="none" stroke="#444" stroke-width="1.1"/>
<polygon points="117.20,5.50 118.35,8.62 121.67,8.75 119.05,10.80 119.96,14.00 117.20,12.15 114.44,14.00 115.35,10.80 112.73,8.75 116.05,8.62" fill="#7a7a7a"/>
<g fill="#555" stroke="#555" stroke-width="0.22" font-weight="normal">
<text x="132.50" y="12.4" font-size="7.8" textLength="45.00" lengthAdjust="spacingAndGlyphs">binance.com</text>
</g>
<g fill="none" stroke="#666" stroke-width="0.8"><rect x="185.3" y="6.2" width="3.2" height="3.2"/><path d="M184.9,8 h-1.4 v3.4 h3.4 v-1.4"/></g>
<ellipse cx="803.2" cy="9.2" rx="4" ry="2.8" fill="none" stroke="#484848" stroke-width="0.95"/><circle cx="803.2" cy="9.2" r="1.15" fill="#444"/>
<g fill="#555" stroke="#555" stroke-width="0.22" font-weight="normal">
<text x="813.00" y="12.2" font-size="7.4" textLength="30.20" lengthAdjust="spacingAndGlyphs">Analysis</text>
</g>
<g stroke="#555" stroke-width="0.7" fill="none"><path d="M848,8 h6 M848,11 h6"/><rect x="849.3" y="7" width="1.2" height="2" fill="#555"/><rect x="851.8" y="10" width="1.2" height="2" fill="#555"/></g>
<path d="M855.6,8.7 l1.8,1.8 l1.8,-1.8" fill="none" stroke="#444" stroke-width="1.1"/>
<g stroke="#333" stroke-width="0.55"><path d="M877.5,7 v4.8 M879.7,7.6 v4.4 M881.8,7 v5.2"/><rect x="876.8" y="7.7" width="1.4" height="3.2" fill="#333"/><rect x="879" y="8.3" width="1.4" height="3" fill="#333"/><rect x="881.1" y="7.5" width="1.4" height="3.2" fill="#333"/></g>
<path d="M886.2,8.7 l1.8,1.8 l1.8,-1.8" fill="none" stroke="#444" stroke-width="1.1"/>
<path d="M902.6,13 l0.6,-2 l4.6,-4.6 l1.4,1.4 l-4.6,4.6 z" fill="#333"/>
<path d="M913.1,8.7 l1.8,1.8 l1.8,-1.8" fill="none" stroke="#444" stroke-width="1.1"/>
<g fill="#555" stroke="#555" stroke-width="0.22" font-weight="normal">
<text x="930.00" y="12.2" font-size="7.4" textLength="18.60" lengthAdjust="spacingAndGlyphs">Share</text>
</g>
<g fill="none" stroke="#666" stroke-width="0.7"><path d="M955.3,7 h-2.1 v5 h5 v-2.1"/><path d="M955.8,6.6 h2.8 v2.8 M958.6,6.6 l-3,3"/></g>
<g stroke="#333" stroke-width="0.9" fill="#333"><path d="M979,6 l-2.6,2.6 M972,13 l2.6,-2.6"/><path d="M976,6.6 v2.4 h2.4z M975,12.4 v-2.4 h-2.4z" stroke-width="0.4"/></g>
<g fill="#707070" stroke="#707070" stroke-width="0.22" font-weight="normal">
<text x="997.20" y="12.2" font-size="7.4" textLength="22.00" lengthAdjust="spacingAndGlyphs">manual</text>
</g>
</svg></body></html>
